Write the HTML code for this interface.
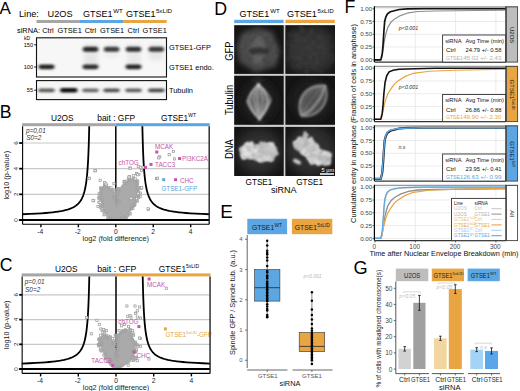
<!DOCTYPE html>
<html><head><meta charset="utf-8"><style>
html,body{margin:0;padding:0;background:#fff;width:520px;height:391px;overflow:hidden}
svg{position:absolute;left:0;top:0;font-family:"Liberation Sans", sans-serif}
</style></head><body>
<svg width="520" height="391" viewBox="0 0 520 391">
<rect width="520" height="391" fill="#fff"/>
<text x="-0.5" y="14" font-size="17" fill="#000" text-anchor="start" >A</text>
<text x="19" y="17.2" font-size="9.2" fill="#000" text-anchor="start" >Line:</text>
<text x="47.6" y="17.2" font-size="9.2" fill="#000" text-anchor="start" >U2OS</text>
<text x="83.1" y="17.0" font-size="9.0" fill="#000" text-anchor="start" >GTSE1<tspan font-size="6.2" dy="-4.0" dx="0.6">WT</tspan></text>
<text x="126" y="17.0" font-size="9.0" fill="#000" text-anchor="start" >GTSE1<tspan font-size="6.2" dy="-4.0" dx="0.4">5xLID</tspan></text>
<rect x="36.4" y="20" width="43.6" height="3" fill="#a6a6a6"/>
<rect x="80" y="20" width="43.1" height="3" fill="#5ba6e3"/>
<rect x="123.1" y="20" width="43.6" height="3" fill="#e8a541"/>
<text x="17" y="32.6" font-size="7.4" fill="#000" text-anchor="start" >siRNA:</text>
<text x="48" y="32.6" font-size="7.4" fill="#000" text-anchor="middle" >Ctrl</text>
<text x="69.7" y="32.6" font-size="7.4" fill="#000" text-anchor="middle" >GTSE1</text>
<text x="90.4" y="32.6" font-size="7.4" fill="#000" text-anchor="middle" >Ctrl</text>
<text x="112" y="32.6" font-size="7.4" fill="#000" text-anchor="middle" >GTSE1</text>
<text x="133.3" y="32.6" font-size="7.4" fill="#000" text-anchor="middle" >Ctrl</text>
<text x="154.7" y="32.6" font-size="7.4" fill="#000" text-anchor="middle" >GTSE1</text>
<text x="23.9" y="39.9" font-size="5.0" fill="#000" text-anchor="start" >kD</text>
<text x="33.0" y="46.8" font-size="5.6" fill="#000" text-anchor="end" >150</text>
<line x1="34.2" y1="44.8" x2="36.5" y2="44.8" stroke="#000" stroke-width="0.9"/>
<text x="33.0" y="69.0" font-size="5.6" fill="#000" text-anchor="end" >100</text>
<line x1="34.2" y1="67.0" x2="36.5" y2="67.0" stroke="#000" stroke-width="0.9"/>
<text x="33.0" y="92.2" font-size="5.6" fill="#000" text-anchor="end" >55</text>
<line x1="34.2" y1="90.2" x2="36.5" y2="90.2" stroke="#000" stroke-width="0.9"/>
<defs><filter id="bl" x="-50%" y="-100%" width="200%" height="300%"><feGaussianBlur stdDeviation="1.5 1.3"/></filter><filter id="bl2" x="-50%" y="-50%" width="200%" height="200%"><feGaussianBlur stdDeviation="2.0"/></filter></defs>
<rect x="36.5" y="37.8" width="130" height="39.2" fill="#f7f7f7" stroke="#111" stroke-width="1.1"/>
<rect x="36.5" y="80.6" width="130" height="19" fill="#f6f6f6" stroke="#111" stroke-width="1.1"/>
<g filter="url(#bl2)" opacity="0.55"><rect x="84" y="44" width="14" height="24" fill="#d8d8d8"/><rect x="127" y="44" width="14" height="24" fill="#dcdcdc"/><rect x="149" y="44" width="14" height="16" fill="#d8d8d8"/><rect x="105" y="44" width="14" height="14" fill="#e4e4e4"/></g>
<g filter="url(#bl)">
<rect x="82.75" y="46.80" width="15.5" height="5.0" rx="2.50" fill="#000" opacity="0.82"/>
<rect x="103.85" y="46.80" width="15.5" height="5.0" rx="2.50" fill="#000" opacity="0.74"/>
<rect x="125.75" y="46.80" width="15.5" height="5.0" rx="2.50" fill="#000" opacity="0.78"/>
<rect x="148.55" y="46.80" width="15.5" height="5.0" rx="2.50" fill="#000" opacity="0.74"/>
<rect x="38.50" y="64.40" width="16" height="4.8" rx="2.40" fill="#000" opacity="0.85"/>
<rect x="82.50" y="64.40" width="16" height="4.8" rx="2.40" fill="#000" opacity="0.8"/>
<rect x="125.50" y="64.40" width="16" height="4.8" rx="2.40" fill="#000" opacity="0.83"/>
<rect x="38.25" y="88.40" width="16.5" height="3.8" rx="1.90" fill="#000" opacity="0.64"/>
<rect x="60.05" y="88.00" width="17.5" height="4.6" rx="2.30" fill="#000" opacity="0.95"/>
<rect x="82.25" y="88.40" width="16.5" height="3.8" rx="1.90" fill="#000" opacity="0.58"/>
<rect x="103.35" y="88.40" width="16.5" height="3.8" rx="1.90" fill="#000" opacity="0.68"/>
<rect x="125.25" y="88.40" width="16.5" height="3.8" rx="1.90" fill="#000" opacity="0.62"/>
<rect x="148.05" y="88.40" width="16.5" height="3.8" rx="1.90" fill="#000" opacity="0.7"/>
</g>
<text x="169" y="49.6" font-size="7.4" fill="#000" text-anchor="start" >GTSE1-GFP</text>
<text x="169" y="70" font-size="7.4" fill="#000" text-anchor="start" >GTSE1 endo.</text>
<text x="169" y="93.3" font-size="7.4" fill="#000" text-anchor="start" >Tubulin</text>
<text x="-0.3" y="118.4" font-size="17.6" fill="#000" text-anchor="start" >B</text>
<text x="62.2" y="120.6" font-size="8.3" fill="#000" text-anchor="middle" >U2OS</text>
<text x="97.2" y="120.6" font-size="8.3" fill="#000" text-anchor="start" textLength="38" lengthAdjust="spacingAndGlyphs">bait : GFP</text>
<text x="161" y="120.6" font-size="8.3" fill="#000" text-anchor="start" >GTSE1<tspan font-size="5" dy="-3.8">WT</tspan></text>
<rect x="22.1" y="123.2" width="93.69999999999999" height="3" fill="#a6a6a6"/>
<rect x="115.8" y="123.2" width="93.89999999999999" height="3" fill="#5ba6e3"/>
<line x1="22.6" y1="194.34" x2="209.2" y2="194.34" stroke="#c8c8c8" stroke-width="1.2"/>
<line x1="22.6" y1="168.68" x2="209.2" y2="168.68" stroke="#c8c8c8" stroke-width="1.2"/>
<line x1="22.6" y1="143.01999999999998" x2="209.2" y2="143.01999999999998" stroke="#c8c8c8" stroke-width="1.2"/>
<path d="M22.20,214.25 L29.78,213.94 L36.02,213.63 L41.24,213.32 L45.68,212.99 L49.50,212.65 L52.81,212.30 L55.71,211.94 L58.27,211.57 L60.55,211.19 L62.59,210.80 L64.42,210.39 L66.07,209.97 L67.58,209.55 L68.95,209.10 L70.20,208.65 L71.35,208.18 L72.42,207.70 L73.39,207.20 L74.30,206.69 L75.14,206.16 L75.93,205.62 L76.66,205.06 L77.34,204.48 L77.97,203.89 L78.57,203.27 L79.13,202.64 L79.66,201.99 L80.16,201.33 L80.63,200.64 L81.07,199.93 L81.49,199.20 L81.88,198.45 L82.26,197.67 L82.61,196.87 L82.95,196.05 L83.27,195.20 L83.58,194.33 L83.87,193.43 L84.14,192.51 L84.41,191.56 L84.66,190.57 L84.90,189.56 L85.12,188.52 L85.34,187.45 L85.55,186.34 L85.75,185.21 L85.94,184.03 L86.13,182.83 L86.30,181.58 L86.47,180.30 L86.63,178.98 L86.79,177.62 L86.93,176.22 L87.08,174.78 L87.21,173.30 L87.35,171.77 L87.47,170.19 L87.59,168.57 L87.71,166.90 L87.82,165.18 L87.93,163.41 L88.04,161.58 L88.14,159.70 L88.23,157.76 L88.33,155.77 L88.42,153.71 L88.50,151.59 L88.59,149.41 L88.67,147.17 L88.74,144.85 L88.82,142.47 L88.89,140.02 L88.96,137.49 L89.03,134.88 L89.09,132.20 L89.16,129.44 L89.22,126.60 L89.23,126.20" fill="none" stroke="#000" stroke-width="1.8"/>
<path d="M209.40,214.25 L201.82,213.94 L195.58,213.63 L190.36,213.32 L185.92,212.99 L182.10,212.65 L178.79,212.30 L175.89,211.94 L173.33,211.57 L171.05,211.19 L169.01,210.80 L167.18,210.39 L165.53,209.97 L164.02,209.55 L162.65,209.10 L161.40,208.65 L160.25,208.18 L159.18,207.70 L158.21,207.20 L157.30,206.69 L156.46,206.16 L155.67,205.62 L154.94,205.06 L154.26,204.48 L153.63,203.89 L153.03,203.27 L152.47,202.64 L151.94,201.99 L151.44,201.33 L150.97,200.64 L150.53,199.93 L150.11,199.20 L149.72,198.45 L149.34,197.67 L148.99,196.87 L148.65,196.05 L148.33,195.20 L148.02,194.33 L147.73,193.43 L147.46,192.51 L147.19,191.56 L146.94,190.57 L146.70,189.56 L146.48,188.52 L146.26,187.45 L146.05,186.34 L145.85,185.21 L145.66,184.03 L145.47,182.83 L145.30,181.58 L145.13,180.30 L144.97,178.98 L144.81,177.62 L144.67,176.22 L144.52,174.78 L144.39,173.30 L144.25,171.77 L144.13,170.19 L144.01,168.57 L143.89,166.90 L143.78,165.18 L143.67,163.41 L143.56,161.58 L143.46,159.70 L143.37,157.76 L143.27,155.77 L143.18,153.71 L143.10,151.59 L143.01,149.41 L142.93,147.17 L142.86,144.85 L142.78,142.47 L142.71,140.02 L142.64,137.49 L142.57,134.88 L142.51,132.20 L142.44,129.44 L142.38,126.60 L142.37,126.20" fill="none" stroke="#000" stroke-width="1.8"/>
<line x1="115.8" y1="126.2" x2="115.8" y2="220.0" stroke="#000" stroke-width="1.5"/>
<polygon points="116,221 109,219 104.6,213.1 102.4,207.3 100.2,198.5 99.5,190.5 103.8,185.4 109,186.9 113.3,191.2 115.5,196 116,204.4 117.5,204.4 117,192.7 121.3,185.4 124.3,182.5 129.4,179.6 133.7,177.4 136.6,181 138.1,186.9 139.6,194.2 136.6,201.4 133.7,207.3 129.4,213.1 123.5,219" fill="#aaaaaa"/>
<rect x="97.7" y="196.0" width="2.2" height="2.2" fill="none" stroke="#a4a4a4" stroke-width="0.75"/>
<rect x="136.1" y="179.6" width="2.2" height="2.2" fill="none" stroke="#a4a4a4" stroke-width="0.75"/>
<rect x="108.7" y="217.0" width="2.2" height="2.2" fill="none" stroke="#a4a4a4" stroke-width="0.75"/>
<rect x="123.6" y="180.2" width="2.2" height="2.2" fill="none" stroke="#a4a4a4" stroke-width="0.75"/>
<rect x="105.6" y="184.3" width="2.2" height="2.2" fill="none" stroke="#a4a4a4" stroke-width="0.75"/>
<rect x="135.8" y="188.2" width="2.2" height="2.2" fill="none" stroke="#a4a4a4" stroke-width="0.75"/>
<rect x="111.3" y="188.7" width="2.2" height="2.2" fill="none" stroke="#a4a4a4" stroke-width="0.75"/>
<rect x="127.5" y="177.0" width="2.2" height="2.2" fill="none" stroke="#a4a4a4" stroke-width="0.75"/>
<rect x="111.6" y="190.8" width="2.2" height="2.2" fill="none" stroke="#a4a4a4" stroke-width="0.75"/>
<rect x="101.2" y="209.2" width="2.2" height="2.2" fill="none" stroke="#a4a4a4" stroke-width="0.75"/>
<rect x="100.4" y="190.2" width="2.2" height="2.2" fill="none" stroke="#a4a4a4" stroke-width="0.75"/>
<rect x="123.3" y="217.1" width="2.2" height="2.2" fill="none" stroke="#a4a4a4" stroke-width="0.75"/>
<rect x="111.4" y="217.4" width="2.2" height="2.2" fill="none" stroke="#a4a4a4" stroke-width="0.75"/>
<rect x="116.5" y="194.0" width="2.2" height="2.2" fill="none" stroke="#a4a4a4" stroke-width="0.75"/>
<rect x="97.8" y="197.3" width="2.2" height="2.2" fill="none" stroke="#a4a4a4" stroke-width="0.75"/>
<rect x="103.0" y="213.7" width="2.2" height="2.2" fill="none" stroke="#a4a4a4" stroke-width="0.75"/>
<rect x="139.4" y="195.4" width="2.2" height="2.2" fill="none" stroke="#a4a4a4" stroke-width="0.75"/>
<rect x="117.5" y="187.9" width="2.2" height="2.2" fill="none" stroke="#a4a4a4" stroke-width="0.75"/>
<rect x="118.4" y="190.1" width="2.2" height="2.2" fill="none" stroke="#a4a4a4" stroke-width="0.75"/>
<rect x="100.3" y="187.0" width="2.2" height="2.2" fill="none" stroke="#a4a4a4" stroke-width="0.75"/>
<rect x="130.6" y="206.7" width="2.2" height="2.2" fill="none" stroke="#a4a4a4" stroke-width="0.75"/>
<rect x="130.3" y="206.5" width="2.2" height="2.2" fill="none" stroke="#a4a4a4" stroke-width="0.75"/>
<rect x="128.9" y="212.9" width="2.2" height="2.2" fill="none" stroke="#a4a4a4" stroke-width="0.75"/>
<rect x="103.7" y="213.3" width="2.2" height="2.2" fill="none" stroke="#a4a4a4" stroke-width="0.75"/>
<rect x="137.7" y="196.5" width="2.2" height="2.2" fill="none" stroke="#a4a4a4" stroke-width="0.75"/>
<rect x="115.9" y="204.6" width="2.2" height="2.2" fill="none" stroke="#a4a4a4" stroke-width="0.75"/>
<rect x="116.9" y="192.0" width="2.2" height="2.2" fill="none" stroke="#a4a4a4" stroke-width="0.75"/>
<rect x="106.9" y="216.4" width="2.2" height="2.2" fill="none" stroke="#a4a4a4" stroke-width="0.75"/>
<rect x="132.3" y="204.2" width="2.2" height="2.2" fill="none" stroke="#a4a4a4" stroke-width="0.75"/>
<rect x="101.2" y="200.7" width="2.2" height="2.2" fill="none" stroke="#a4a4a4" stroke-width="0.75"/>
<rect x="123.5" y="180.9" width="2.2" height="2.2" fill="none" stroke="#a4a4a4" stroke-width="0.75"/>
<rect x="124.2" y="215.8" width="2.2" height="2.2" fill="none" stroke="#a4a4a4" stroke-width="0.75"/>
<rect x="113.0" y="194.4" width="2.2" height="2.2" fill="none" stroke="#a4a4a4" stroke-width="0.75"/>
<rect x="139.3" y="192.0" width="2.2" height="2.2" fill="none" stroke="#a4a4a4" stroke-width="0.75"/>
<rect x="101.8" y="203.3" width="2.2" height="2.2" fill="none" stroke="#a4a4a4" stroke-width="0.75"/>
<rect x="116.0" y="188.0" width="2.2" height="2.2" fill="none" stroke="#a4a4a4" stroke-width="0.75"/>
<rect x="108.5" y="217.9" width="2.2" height="2.2" fill="none" stroke="#a4a4a4" stroke-width="0.75"/>
<rect x="129.2" y="179.8" width="2.2" height="2.2" fill="none" stroke="#a4a4a4" stroke-width="0.75"/>
<rect x="116.9" y="191.1" width="2.2" height="2.2" fill="none" stroke="#a4a4a4" stroke-width="0.75"/>
<rect x="135.6" y="199.7" width="2.2" height="2.2" fill="none" stroke="#a4a4a4" stroke-width="0.75"/>
<rect x="115.3" y="201.1" width="2.2" height="2.2" fill="none" stroke="#a4a4a4" stroke-width="0.75"/>
<rect x="113.4" y="192.6" width="2.2" height="2.2" fill="none" stroke="#a4a4a4" stroke-width="0.75"/>
<rect x="136.6" y="180.9" width="2.2" height="2.2" fill="none" stroke="#a4a4a4" stroke-width="0.75"/>
<rect x="117.5" y="199.9" width="2.2" height="2.2" fill="none" stroke="#a4a4a4" stroke-width="0.75"/>
<rect x="118.3" y="189.7" width="2.2" height="2.2" fill="none" stroke="#a4a4a4" stroke-width="0.75"/>
<rect x="132.2" y="177.5" width="2.2" height="2.2" fill="none" stroke="#a4a4a4" stroke-width="0.75"/>
<rect x="131.3" y="205.2" width="2.2" height="2.2" fill="none" stroke="#a4a4a4" stroke-width="0.75"/>
<rect x="127.8" y="180.6" width="2.2" height="2.2" fill="none" stroke="#a4a4a4" stroke-width="0.75"/>
<rect x="109.3" y="217.1" width="2.2" height="2.2" fill="none" stroke="#a4a4a4" stroke-width="0.75"/>
<rect x="135.1" y="180.6" width="2.2" height="2.2" fill="none" stroke="#a4a4a4" stroke-width="0.75"/>
<rect x="115.4" y="189.0" width="2.2" height="2.2" fill="none" stroke="#a4a4a4" stroke-width="0.75"/>
<rect x="137.8" y="191.7" width="2.2" height="2.2" fill="none" stroke="#a4a4a4" stroke-width="0.75"/>
<rect x="118.7" y="216.7" width="2.2" height="2.2" fill="none" stroke="#a4a4a4" stroke-width="0.75"/>
<rect x="100.2" y="205.4" width="2.2" height="2.2" fill="none" stroke="#a4a4a4" stroke-width="0.75"/>
<rect x="135.1" y="196.7" width="2.2" height="2.2" fill="none" stroke="#a4a4a4" stroke-width="0.75"/>
<rect x="133.1" y="204.5" width="2.2" height="2.2" fill="none" stroke="#a4a4a4" stroke-width="0.75"/>
<rect x="135.6" y="196.7" width="2.2" height="2.2" fill="none" stroke="#a4a4a4" stroke-width="0.75"/>
<rect x="112.9" y="192.3" width="2.2" height="2.2" fill="none" stroke="#a4a4a4" stroke-width="0.75"/>
<rect x="135.2" y="181.4" width="2.2" height="2.2" fill="none" stroke="#a4a4a4" stroke-width="0.75"/>
<rect x="107.6" y="187.2" width="2.2" height="2.2" fill="none" stroke="#a4a4a4" stroke-width="0.75"/>
<rect x="101.6" y="205.5" width="2.2" height="2.2" fill="none" stroke="#a4a4a4" stroke-width="0.75"/>
<rect x="112.5" y="188.8" width="2.2" height="2.2" fill="none" stroke="#a4a4a4" stroke-width="0.75"/>
<rect x="117.0" y="187.5" width="2.2" height="2.2" fill="none" stroke="#a4a4a4" stroke-width="0.75"/>
<rect x="103.6" y="185.5" width="2.2" height="2.2" fill="none" stroke="#a4a4a4" stroke-width="0.75"/>
<rect x="136.0" y="197.2" width="2.2" height="2.2" fill="none" stroke="#a4a4a4" stroke-width="0.75"/>
<rect x="100.1" y="188.9" width="2.2" height="2.2" fill="none" stroke="#a4a4a4" stroke-width="0.75"/>
<rect x="101.2" y="199.6" width="2.2" height="2.2" fill="none" stroke="#a4a4a4" stroke-width="0.75"/>
<rect x="117.9" y="200.9" width="2.2" height="2.2" fill="none" stroke="#a4a4a4" stroke-width="0.75"/>
<rect x="115.3" y="201.2" width="2.2" height="2.2" fill="none" stroke="#a4a4a4" stroke-width="0.75"/>
<rect x="115.3" y="191.2" width="2.2" height="2.2" fill="none" stroke="#a4a4a4" stroke-width="0.75"/>
<rect x="128.5" y="178.7" width="2.2" height="2.2" fill="none" stroke="#a4a4a4" stroke-width="0.75"/>
<rect x="136.8" y="195.8" width="2.2" height="2.2" fill="none" stroke="#a4a4a4" stroke-width="0.75"/>
<rect x="115.5" y="194.9" width="2.2" height="2.2" fill="none" stroke="#a4a4a4" stroke-width="0.75"/>
<rect x="97.8" y="201.2" width="2.2" height="2.2" fill="none" stroke="#a4a4a4" stroke-width="0.75"/>
<rect x="133.9" y="203.1" width="2.2" height="2.2" fill="none" stroke="#a4a4a4" stroke-width="0.75"/>
<rect x="100.8" y="207.7" width="2.2" height="2.2" fill="none" stroke="#a4a4a4" stroke-width="0.75"/>
<rect x="136.1" y="183.6" width="2.2" height="2.2" fill="none" stroke="#a4a4a4" stroke-width="0.75"/>
<rect x="126.5" y="214.5" width="2.2" height="2.2" fill="none" stroke="#a4a4a4" stroke-width="0.75"/>
<rect x="100.2" y="190.9" width="2.2" height="2.2" fill="none" stroke="#a4a4a4" stroke-width="0.75"/>
<rect x="137.4" y="187.1" width="2.2" height="2.2" fill="none" stroke="#a4a4a4" stroke-width="0.75"/>
<rect x="128.0" y="177.7" width="2.2" height="2.2" fill="none" stroke="#a4a4a4" stroke-width="0.75"/>
<rect x="126.7" y="213.4" width="2.2" height="2.2" fill="none" stroke="#a4a4a4" stroke-width="0.75"/>
<rect x="135.9" y="185.4" width="2.2" height="2.2" fill="none" stroke="#a4a4a4" stroke-width="0.75"/>
<rect x="125.2" y="216.2" width="2.2" height="2.2" fill="none" stroke="#a4a4a4" stroke-width="0.75"/>
<rect x="135.5" y="184.2" width="2.2" height="2.2" fill="none" stroke="#a4a4a4" stroke-width="0.75"/>
<rect x="109.9" y="186.8" width="2.2" height="2.2" fill="none" stroke="#a4a4a4" stroke-width="0.75"/>
<rect x="123.8" y="216.1" width="2.2" height="2.2" fill="none" stroke="#a4a4a4" stroke-width="0.75"/>
<rect x="99.2" y="200.7" width="2.2" height="2.2" fill="none" stroke="#a4a4a4" stroke-width="0.75"/>
<rect x="115.2" y="198.9" width="2.2" height="2.2" fill="none" stroke="#a4a4a4" stroke-width="0.75"/>
<rect x="136.3" y="188.4" width="2.2" height="2.2" fill="none" stroke="#a4a4a4" stroke-width="0.75"/>
<rect x="104.5" y="183.2" width="2.2" height="2.2" fill="none" stroke="#a4a4a4" stroke-width="0.75"/>
<rect x="99.1" y="196.9" width="2.2" height="2.2" fill="none" stroke="#a4a4a4" stroke-width="0.75"/>
<rect x="124.9" y="217.5" width="2.2" height="2.2" fill="none" stroke="#a4a4a4" stroke-width="0.75"/>
<rect x="101.0" y="209.6" width="2.2" height="2.2" fill="none" stroke="#a4a4a4" stroke-width="0.75"/>
<rect x="128.9" y="212.3" width="2.2" height="2.2" fill="none" stroke="#a4a4a4" stroke-width="0.75"/>
<rect x="131.8" y="207.5" width="2.2" height="2.2" fill="none" stroke="#a4a4a4" stroke-width="0.75"/>
<rect x="112.9" y="195.7" width="2.2" height="2.2" fill="none" stroke="#a4a4a4" stroke-width="0.75"/>
<rect x="100.1" y="193.1" width="2.2" height="2.2" fill="none" stroke="#a4a4a4" stroke-width="0.75"/>
<rect x="101.6" y="202.1" width="2.2" height="2.2" fill="none" stroke="#a4a4a4" stroke-width="0.75"/>
<rect x="129.9" y="207.9" width="2.2" height="2.2" fill="none" stroke="#a4a4a4" stroke-width="0.75"/>
<rect x="117.5" y="190.8" width="2.2" height="2.2" fill="none" stroke="#a4a4a4" stroke-width="0.75"/>
<rect x="98.6" y="193.9" width="2.2" height="2.2" fill="none" stroke="#a4a4a4" stroke-width="0.75"/>
<rect x="99.6" y="186.9" width="2.2" height="2.2" fill="none" stroke="#a4a4a4" stroke-width="0.75"/>
<rect x="100.6" y="196.6" width="2.2" height="2.2" fill="none" stroke="#a4a4a4" stroke-width="0.75"/>
<rect x="113.4" y="217.8" width="2.2" height="2.2" fill="none" stroke="#a4a4a4" stroke-width="0.75"/>
<rect x="100.4" y="190.9" width="2.2" height="2.2" fill="none" stroke="#a4a4a4" stroke-width="0.75"/>
<rect x="132.2" y="174.5" width="2.2" height="2.2" fill="none" stroke="#a4a4a4" stroke-width="0.75"/>
<rect x="116.6" y="192.1" width="2.2" height="2.2" fill="none" stroke="#a4a4a4" stroke-width="0.75"/>
<rect x="115.9" y="196.3" width="2.2" height="2.2" fill="none" stroke="#a4a4a4" stroke-width="0.75"/>
<rect x="100.2" y="187.3" width="2.2" height="2.2" fill="none" stroke="#a4a4a4" stroke-width="0.75"/>
<rect x="115.6" y="202.0" width="2.2" height="2.2" fill="none" stroke="#a4a4a4" stroke-width="0.75"/>
<rect x="102.9" y="210.7" width="2.2" height="2.2" fill="none" stroke="#a4a4a4" stroke-width="0.75"/>
<rect x="117.1" y="187.7" width="2.2" height="2.2" fill="none" stroke="#a4a4a4" stroke-width="0.75"/>
<rect x="125.8" y="180.0" width="2.2" height="2.2" fill="none" stroke="#a4a4a4" stroke-width="0.75"/>
<rect x="99.7" y="192.1" width="2.2" height="2.2" fill="none" stroke="#a4a4a4" stroke-width="0.75"/>
<rect x="122.8" y="180.7" width="2.2" height="2.2" fill="none" stroke="#a4a4a4" stroke-width="0.75"/>
<rect x="106.8" y="217.2" width="2.2" height="2.2" fill="none" stroke="#a4a4a4" stroke-width="0.75"/>
<rect x="112.7" y="196.6" width="2.2" height="2.2" fill="none" stroke="#a4a4a4" stroke-width="0.75"/>
<rect x="114.9" y="197.8" width="2.2" height="2.2" fill="none" stroke="#a4a4a4" stroke-width="0.75"/>
<rect x="98.9" y="197.6" width="2.2" height="2.2" fill="none" stroke="#a4a4a4" stroke-width="0.75"/>
<rect x="98.1" y="192.3" width="2.2" height="2.2" fill="none" stroke="#a4a4a4" stroke-width="0.75"/>
<rect x="112.7" y="199.0" width="2.2" height="2.2" fill="none" stroke="#a4a4a4" stroke-width="0.75"/>
<rect x="137.2" y="188.2" width="2.2" height="2.2" fill="none" stroke="#a4a4a4" stroke-width="0.75"/>
<rect x="118.2" y="200.7" width="2.2" height="2.2" fill="none" stroke="#a4a4a4" stroke-width="0.75"/>
<rect x="139.1" y="186.6" width="2.2" height="2.2" fill="none" stroke="#a4a4a4" stroke-width="0.75"/>
<rect x="133.0" y="203.5" width="2.2" height="2.2" fill="none" stroke="#a4a4a4" stroke-width="0.75"/>
<rect x="107.2" y="186.6" width="2.2" height="2.2" fill="none" stroke="#a4a4a4" stroke-width="0.75"/>
<rect x="136.0" y="182.5" width="2.2" height="2.2" fill="none" stroke="#a4a4a4" stroke-width="0.75"/>
<rect x="99.2" y="206.2" width="2.2" height="2.2" fill="none" stroke="#a4a4a4" stroke-width="0.75"/>
<rect x="99.5" y="204.3" width="2.2" height="2.2" fill="none" stroke="#a4a4a4" stroke-width="0.75"/>
<rect x="133.6" y="179.9" width="2.2" height="2.2" fill="none" stroke="#a4a4a4" stroke-width="0.75"/>
<rect x="136.2" y="196.0" width="2.2" height="2.2" fill="none" stroke="#a4a4a4" stroke-width="0.75"/>
<rect x="103.3" y="184.4" width="2.2" height="2.2" fill="none" stroke="#a4a4a4" stroke-width="0.75"/>
<rect x="115.2" y="203.3" width="2.2" height="2.2" fill="none" stroke="#a4a4a4" stroke-width="0.75"/>
<rect x="125.1" y="182.4" width="2.2" height="2.2" fill="none" stroke="#a4a4a4" stroke-width="0.75"/>
<rect x="121.7" y="216.8" width="2.2" height="2.2" fill="none" stroke="#a4a4a4" stroke-width="0.75"/>
<rect x="102.8" y="186.8" width="2.2" height="2.2" fill="none" stroke="#a4a4a4" stroke-width="0.75"/>
<rect x="118.2" y="199.3" width="2.2" height="2.2" fill="none" stroke="#a4a4a4" stroke-width="0.75"/>
<rect x="136.1" y="200.2" width="2.2" height="2.2" fill="none" stroke="#a4a4a4" stroke-width="0.75"/>
<rect x="135.6" y="186.6" width="2.2" height="2.2" fill="none" stroke="#a4a4a4" stroke-width="0.75"/>
<rect x="94.0" y="169.7" width="2.2" height="2.2" fill="#fff" stroke="#9c9c9c" stroke-width="0.75"/>
<rect x="99.1" y="179.2" width="2.2" height="2.2" fill="#fff" stroke="#9c9c9c" stroke-width="0.75"/>
<rect x="92.5" y="199.6" width="2.2" height="2.2" fill="#fff" stroke="#9c9c9c" stroke-width="0.75"/>
<rect x="99.1" y="201.1" width="2.2" height="2.2" fill="#fff" stroke="#9c9c9c" stroke-width="0.75"/>
<rect x="96.9" y="205.4" width="2.2" height="2.2" fill="#fff" stroke="#9c9c9c" stroke-width="0.75"/>
<rect x="103.5" y="181.4" width="2.2" height="2.2" fill="#fff" stroke="#9c9c9c" stroke-width="0.75"/>
<rect x="104.9" y="182.9" width="2.2" height="2.2" fill="#fff" stroke="#9c9c9c" stroke-width="0.75"/>
<rect x="112.9" y="182.6" width="2.2" height="2.2" fill="#fff" stroke="#9c9c9c" stroke-width="0.75"/>
<rect x="128.9" y="166.9" width="2.2" height="2.2" fill="#fff" stroke="#9c9c9c" stroke-width="0.75"/>
<rect x="128.3" y="175.6" width="2.2" height="2.2" fill="#fff" stroke="#9c9c9c" stroke-width="0.75"/>
<rect x="135.5" y="172.6" width="2.2" height="2.2" fill="#fff" stroke="#9c9c9c" stroke-width="0.75"/>
<rect x="137.7" y="173.4" width="2.2" height="2.2" fill="#fff" stroke="#9c9c9c" stroke-width="0.75"/>
<rect x="139.2" y="166.1" width="2.2" height="2.2" fill="#fff" stroke="#9c9c9c" stroke-width="0.75"/>
<rect x="134.1" y="177.7" width="2.2" height="2.2" fill="#fff" stroke="#9c9c9c" stroke-width="0.75"/>
<rect x="137.0" y="192.3" width="2.2" height="2.2" fill="#fff" stroke="#9c9c9c" stroke-width="0.75"/>
<rect x="139.9" y="187.2" width="2.2" height="2.2" fill="#fff" stroke="#9c9c9c" stroke-width="0.75"/>
<rect x="135.5" y="197.4" width="2.2" height="2.2" fill="#fff" stroke="#9c9c9c" stroke-width="0.75"/>
<rect x="147.4" y="208.2" width="2.2" height="2.2" fill="#fff" stroke="#9c9c9c" stroke-width="0.75"/>
<rect x="129.0" y="167.3" width="2.2" height="2.2" fill="#fff" stroke="#9c9c9c" stroke-width="0.75"/>
<rect x="137.2" y="165.3" width="2.2" height="2.2" fill="#fff" stroke="#9c9c9c" stroke-width="0.75"/>
<rect x="140.3" y="169.4" width="2.2" height="2.2" fill="#fff" stroke="#9c9c9c" stroke-width="0.75"/>
<rect x="155.6" y="177.5" width="2.2" height="2.2" fill="#fff" stroke="#9c9c9c" stroke-width="0.75"/>
<rect x="172.4" y="150.4" width="2.2" height="2.2" fill="#fff" stroke="#9c9c9c" stroke-width="0.75"/>
<rect x="168.1" y="153.6" width="2.2" height="2.2" fill="#fff" stroke="#9c9c9c" stroke-width="0.75"/>
<rect x="158.6" y="155.7" width="2.2" height="2.2" fill="#fff" stroke="#9c9c9c" stroke-width="0.75"/>
<rect x="157.6" y="156.8" width="2.2" height="2.2" fill="#fff" stroke="#9c9c9c" stroke-width="0.75"/>
<rect x="173.4" y="157.8" width="2.2" height="2.2" fill="#fff" stroke="#9c9c9c" stroke-width="0.75"/>
<rect x="142.7" y="166.3" width="2.2" height="2.2" fill="#fff" stroke="#9c9c9c" stroke-width="0.75"/>
<rect x="136.4" y="173.7" width="2.2" height="2.2" fill="#fff" stroke="#9c9c9c" stroke-width="0.75"/>
<rect x="127.9" y="175.9" width="2.2" height="2.2" fill="#fff" stroke="#9c9c9c" stroke-width="0.75"/>
<rect x="156.5" y="177.1" width="2.2" height="2.2" fill="#fff" stroke="#9c9c9c" stroke-width="0.75"/>
<rect x="146.9" y="207.7" width="2.2" height="2.2" fill="#fff" stroke="#9c9c9c" stroke-width="0.75"/>
<rect x="140.6" y="186.6" width="2.2" height="2.2" fill="#fff" stroke="#9c9c9c" stroke-width="0.75"/>
<rect x="129.9" y="197.2" width="2.2" height="2.2" fill="#fff" stroke="#9c9c9c" stroke-width="0.75"/>
<rect x="87.7" y="177.1" width="2.2" height="2.2" fill="#fff" stroke="#9c9c9c" stroke-width="0.75"/>
<rect x="91.9" y="199.3" width="2.2" height="2.2" fill="#fff" stroke="#9c9c9c" stroke-width="0.75"/>
<rect x="88.1" y="177.5" width="2.2" height="2.2" fill="#fff" stroke="#9c9c9c" stroke-width="0.75"/>
<rect x="94.1" y="169.5" width="2.2" height="2.2" fill="#fff" stroke="#9c9c9c" stroke-width="0.75"/>
<rect x="155.3" y="150.5" width="3.0" height="3.0" fill="#c455a8"/>
<text x="155" y="148.6" font-size="6.3" fill="#c455a8" text-anchor="start" >MCAK</text>
<rect x="178.1" y="157.0" width="3.0" height="3.0" fill="#c455a8"/>
<text x="182" y="161.2" font-size="6.3" fill="#c455a8" text-anchor="start" >PI3KC2A</text>
<rect x="149.5" y="162.9" width="3.0" height="3.0" fill="#c455a8"/>
<text x="155" y="167" font-size="6.3" fill="#c455a8" text-anchor="start" >TACC3</text>
<rect x="144.0" y="165.9" width="3.0" height="3.0" fill="#c455a8"/>
<text x="118.5" y="164.8" font-size="6.3" fill="#c455a8" text-anchor="start" >chTOG</text>
<rect x="174.1" y="178.2" width="3.0" height="3.0" fill="#c455a8"/>
<text x="180" y="182.5" font-size="6.3" fill="#c455a8" text-anchor="start" >CHC</text>
<rect x="162.2" y="178.2" width="3.0" height="3.0" fill="#5ba6e3"/>
<text x="161.4" y="191.2" font-size="6.3" fill="#5ba6e3" text-anchor="start" >GTSE1-GFP</text>
<line x1="19.2" y1="220.0" x2="209.2" y2="220.0" stroke="#000" stroke-width="2.0"/>
<line x1="22.6" y1="126.2" x2="22.6" y2="224.3" stroke="#000" stroke-width="1.1"/>
<line x1="209.2" y1="126.2" x2="209.2" y2="224.3" stroke="#222" stroke-width="1.4"/>
<line x1="22.6" y1="224.3" x2="209.2" y2="224.3" stroke="#000" stroke-width="1.1"/>
<line x1="40.92" y1="224.3" x2="40.92" y2="227.3" stroke="#000" stroke-width="1.4"/>
<text x="40.32" y="234.20000000000002" font-size="6.7" fill="#222" text-anchor="middle" >-4</text>
<line x1="78.36" y1="224.3" x2="78.36" y2="227.3" stroke="#000" stroke-width="1.4"/>
<text x="77.76" y="234.20000000000002" font-size="6.7" fill="#222" text-anchor="middle" >-2</text>
<line x1="115.8" y1="224.3" x2="115.8" y2="227.3" stroke="#000" stroke-width="1.4"/>
<text x="115.8" y="234.20000000000002" font-size="6.7" fill="#222" text-anchor="middle" >0</text>
<line x1="153.24" y1="224.3" x2="153.24" y2="227.3" stroke="#000" stroke-width="1.4"/>
<text x="153.24" y="234.20000000000002" font-size="6.7" fill="#222" text-anchor="middle" >2</text>
<line x1="190.68" y1="224.3" x2="190.68" y2="227.3" stroke="#000" stroke-width="1.4"/>
<text x="190.68" y="234.20000000000002" font-size="6.7" fill="#222" text-anchor="middle" >4</text>
<line x1="19.2" y1="220.0" x2="22.6" y2="220.0" stroke="#000" stroke-width="1.8"/>
<text x="15.4" y="220.0" font-size="6.2" fill="#222" text-anchor="middle" transform="rotate(-90 15.4 220.0)" dy="2.2">0</text>
<line x1="19.2" y1="194.34" x2="22.6" y2="194.34" stroke="#000" stroke-width="1.8"/>
<text x="15.4" y="194.34" font-size="6.2" fill="#222" text-anchor="middle" transform="rotate(-90 15.4 194.34)" dy="2.2">2</text>
<line x1="19.2" y1="168.68" x2="22.6" y2="168.68" stroke="#000" stroke-width="1.8"/>
<text x="15.4" y="168.68" font-size="6.2" fill="#222" text-anchor="middle" transform="rotate(-90 15.4 168.68)" dy="2.2">4</text>
<line x1="19.2" y1="143.01999999999998" x2="22.6" y2="143.01999999999998" stroke="#000" stroke-width="1.8"/>
<text x="15.4" y="143.01999999999998" font-size="6.2" fill="#222" text-anchor="middle" transform="rotate(-90 15.4 143.01999999999998)" dy="2.2">6</text>
<text x="115.8" y="240.8" font-size="7.3" fill="#222" text-anchor="middle" >log2 (fold difference)</text>
<text x="8.8" y="175.25" font-size="7.3" fill="#222" text-anchor="middle" transform="rotate(-90 8.8 175.25)">log10 (p-value)</text>
<text x="26" y="133.0" font-size="6.4" fill="#333" text-anchor="start" font-style="italic">p=0,01</text>
<text x="26.3" y="140.10000000000002" font-size="6.4" fill="#333" text-anchor="start" font-style="italic">S0=2</text>
<text x="-0.3" y="270.9" font-size="17.6" fill="#000" text-anchor="start" >C</text>
<text x="66.2" y="271.6" font-size="8.3" fill="#000" text-anchor="middle" >U2OS</text>
<text x="97.2" y="271.6" font-size="8.3" fill="#000" text-anchor="start" textLength="39.2" lengthAdjust="spacingAndGlyphs">bait : GFP</text>
<text x="158.8" y="271.6" font-size="8.3" fill="#000" text-anchor="start" >GTSE1<tspan font-size="5" dy="-3.8">5xLID</tspan></text>
<rect x="21.65" y="273.4" width="94.35" height="3" fill="#a6a6a6"/>
<rect x="116.0" y="273.4" width="94.55000000000001" height="3" fill="#e8a541"/>
<line x1="22.15" y1="344.34000000000003" x2="210.05" y2="344.34000000000003" stroke="#c8c8c8" stroke-width="1.2"/>
<line x1="22.15" y1="319.58000000000004" x2="210.05" y2="319.58000000000004" stroke="#c8c8c8" stroke-width="1.2"/>
<line x1="22.15" y1="294.82000000000005" x2="210.05" y2="294.82000000000005" stroke="#c8c8c8" stroke-width="1.2"/>
<path d="M21.75,363.55 L29.38,363.26 L35.67,362.96 L40.93,362.65 L45.40,362.33 L49.24,362.01 L52.57,361.67 L55.49,361.32 L58.07,360.97 L60.36,360.60 L62.42,360.22 L64.26,359.83 L65.93,359.43 L67.44,359.01 L68.82,358.59 L70.09,358.15 L71.25,357.69 L72.31,357.23 L73.30,356.75 L74.21,356.25 L75.06,355.75 L75.85,355.22 L76.58,354.68 L77.27,354.12 L77.91,353.55 L78.51,352.96 L79.08,352.35 L79.61,351.73 L80.11,351.08 L80.58,350.42 L81.03,349.73 L81.45,349.03 L81.85,348.30 L82.23,347.55 L82.58,346.78 L82.92,345.99 L83.25,345.17 L83.55,344.33 L83.84,343.47 L84.12,342.57 L84.39,341.65 L84.64,340.71 L84.88,339.73 L85.11,338.73 L85.33,337.69 L85.54,336.62 L85.74,335.53 L85.94,334.39 L86.12,333.23 L86.30,332.03 L86.47,330.79 L86.63,329.52 L86.78,328.21 L86.93,326.86 L87.08,325.47 L87.22,324.04 L87.35,322.56 L87.48,321.04 L87.60,319.47 L87.72,317.86 L87.83,316.20 L87.94,314.49 L88.04,312.73 L88.14,310.91 L88.24,309.04 L88.34,307.12 L88.43,305.13 L88.51,303.09 L88.60,300.99 L88.68,298.82 L88.76,296.59 L88.83,294.29 L88.90,291.92 L88.98,289.48 L89.04,286.97 L89.11,284.38 L89.17,281.72 L89.23,278.97 L89.29,276.40" fill="none" stroke="#000" stroke-width="1.8"/>
<path d="M210.25,363.55 L202.62,363.26 L196.33,362.96 L191.07,362.65 L186.60,362.33 L182.76,362.01 L179.43,361.67 L176.51,361.32 L173.93,360.97 L171.64,360.60 L169.58,360.22 L167.74,359.83 L166.07,359.43 L164.56,359.01 L163.18,358.59 L161.91,358.15 L160.75,357.69 L159.69,357.23 L158.70,356.75 L157.79,356.25 L156.94,355.75 L156.15,355.22 L155.42,354.68 L154.73,354.12 L154.09,353.55 L153.49,352.96 L152.92,352.35 L152.39,351.73 L151.89,351.08 L151.42,350.42 L150.97,349.73 L150.55,349.03 L150.15,348.30 L149.77,347.55 L149.42,346.78 L149.08,345.99 L148.75,345.17 L148.45,344.33 L148.16,343.47 L147.88,342.57 L147.61,341.65 L147.36,340.71 L147.12,339.73 L146.89,338.73 L146.67,337.69 L146.46,336.62 L146.26,335.53 L146.06,334.39 L145.88,333.23 L145.70,332.03 L145.53,330.79 L145.37,329.52 L145.22,328.21 L145.07,326.86 L144.92,325.47 L144.78,324.04 L144.65,322.56 L144.52,321.04 L144.40,319.47 L144.28,317.86 L144.17,316.20 L144.06,314.49 L143.96,312.73 L143.86,310.91 L143.76,309.04 L143.66,307.12 L143.57,305.13 L143.49,303.09 L143.40,300.99 L143.32,298.82 L143.24,296.59 L143.17,294.29 L143.10,291.92 L143.02,289.48 L142.96,286.97 L142.89,284.38 L142.83,281.72 L142.77,278.97 L142.71,276.40" fill="none" stroke="#000" stroke-width="1.8"/>
<line x1="116.0" y1="276.4" x2="116.0" y2="369.1" stroke="#000" stroke-width="1.5"/>
<polygon points="116,369.4 113.5,365.5 108.8,360.7 104,354.4 100.8,346.5 100,340 102.4,333.8 108.8,337 114.3,341.7 115.5,350 116,357.5 117,357.5 116.7,335.4 121.5,330.6 126.2,329 131,332.2 132.5,337 135.7,341.7 135.7,349.6 134.1,357.5 129.4,362.3 123,367" fill="#aaaaaa"/>
<rect x="115.3" y="342.1" width="2.2" height="2.2" fill="none" stroke="#a4a4a4" stroke-width="0.75"/>
<rect x="98.5" y="342.3" width="2.2" height="2.2" fill="none" stroke="#a4a4a4" stroke-width="0.75"/>
<rect x="117.0" y="366.0" width="2.2" height="2.2" fill="none" stroke="#a4a4a4" stroke-width="0.75"/>
<rect x="100.9" y="338.5" width="2.2" height="2.2" fill="none" stroke="#a4a4a4" stroke-width="0.75"/>
<rect x="107.5" y="335.0" width="2.2" height="2.2" fill="none" stroke="#a4a4a4" stroke-width="0.75"/>
<rect x="108.1" y="361.0" width="2.2" height="2.2" fill="none" stroke="#a4a4a4" stroke-width="0.75"/>
<rect x="97.8" y="344.3" width="2.2" height="2.2" fill="none" stroke="#a4a4a4" stroke-width="0.75"/>
<rect x="120.6" y="331.2" width="2.2" height="2.2" fill="none" stroke="#a4a4a4" stroke-width="0.75"/>
<rect x="119.9" y="364.8" width="2.2" height="2.2" fill="none" stroke="#a4a4a4" stroke-width="0.75"/>
<rect x="100.2" y="349.3" width="2.2" height="2.2" fill="none" stroke="#a4a4a4" stroke-width="0.75"/>
<rect x="116.6" y="365.9" width="2.2" height="2.2" fill="none" stroke="#a4a4a4" stroke-width="0.75"/>
<rect x="113.6" y="343.2" width="2.2" height="2.2" fill="none" stroke="#a4a4a4" stroke-width="0.75"/>
<rect x="122.3" y="330.0" width="2.2" height="2.2" fill="none" stroke="#a4a4a4" stroke-width="0.75"/>
<rect x="98.6" y="341.8" width="2.2" height="2.2" fill="none" stroke="#a4a4a4" stroke-width="0.75"/>
<rect x="127.7" y="329.7" width="2.2" height="2.2" fill="none" stroke="#a4a4a4" stroke-width="0.75"/>
<rect x="110.7" y="363.4" width="2.2" height="2.2" fill="none" stroke="#a4a4a4" stroke-width="0.75"/>
<rect x="114.1" y="335.2" width="2.2" height="2.2" fill="none" stroke="#a4a4a4" stroke-width="0.75"/>
<rect x="114.5" y="340.0" width="2.2" height="2.2" fill="none" stroke="#a4a4a4" stroke-width="0.75"/>
<rect x="112.8" y="342.1" width="2.2" height="2.2" fill="none" stroke="#a4a4a4" stroke-width="0.75"/>
<rect x="130.4" y="337.1" width="2.2" height="2.2" fill="none" stroke="#a4a4a4" stroke-width="0.75"/>
<rect x="119.2" y="331.9" width="2.2" height="2.2" fill="none" stroke="#a4a4a4" stroke-width="0.75"/>
<rect x="100.3" y="350.0" width="2.2" height="2.2" fill="none" stroke="#a4a4a4" stroke-width="0.75"/>
<rect x="124.5" y="328.7" width="2.2" height="2.2" fill="none" stroke="#a4a4a4" stroke-width="0.75"/>
<rect x="114.8" y="356.4" width="2.2" height="2.2" fill="none" stroke="#a4a4a4" stroke-width="0.75"/>
<rect x="132.1" y="333.2" width="2.2" height="2.2" fill="none" stroke="#a4a4a4" stroke-width="0.75"/>
<rect x="117.9" y="333.4" width="2.2" height="2.2" fill="none" stroke="#a4a4a4" stroke-width="0.75"/>
<rect x="121.9" y="329.6" width="2.2" height="2.2" fill="none" stroke="#a4a4a4" stroke-width="0.75"/>
<rect x="115.0" y="350.2" width="2.2" height="2.2" fill="none" stroke="#a4a4a4" stroke-width="0.75"/>
<rect x="116.0" y="367.0" width="2.2" height="2.2" fill="none" stroke="#a4a4a4" stroke-width="0.75"/>
<rect x="118.2" y="366.8" width="2.2" height="2.2" fill="none" stroke="#a4a4a4" stroke-width="0.75"/>
<rect x="132.2" y="349.5" width="2.2" height="2.2" fill="none" stroke="#a4a4a4" stroke-width="0.75"/>
<rect x="117.7" y="349.2" width="2.2" height="2.2" fill="none" stroke="#a4a4a4" stroke-width="0.75"/>
<rect x="111.7" y="364.0" width="2.2" height="2.2" fill="none" stroke="#a4a4a4" stroke-width="0.75"/>
<rect x="99.6" y="334.1" width="2.2" height="2.2" fill="none" stroke="#a4a4a4" stroke-width="0.75"/>
<rect x="99.5" y="341.3" width="2.2" height="2.2" fill="none" stroke="#a4a4a4" stroke-width="0.75"/>
<rect x="115.6" y="349.1" width="2.2" height="2.2" fill="none" stroke="#a4a4a4" stroke-width="0.75"/>
<rect x="110.2" y="359.9" width="2.2" height="2.2" fill="none" stroke="#a4a4a4" stroke-width="0.75"/>
<rect x="101.1" y="341.0" width="2.2" height="2.2" fill="none" stroke="#a4a4a4" stroke-width="0.75"/>
<rect x="106.1" y="359.8" width="2.2" height="2.2" fill="none" stroke="#a4a4a4" stroke-width="0.75"/>
<rect x="104.5" y="335.5" width="2.2" height="2.2" fill="none" stroke="#a4a4a4" stroke-width="0.75"/>
<rect x="101.3" y="331.1" width="2.2" height="2.2" fill="none" stroke="#a4a4a4" stroke-width="0.75"/>
<rect x="115.5" y="348.6" width="2.2" height="2.2" fill="none" stroke="#a4a4a4" stroke-width="0.75"/>
<rect x="106.3" y="337.0" width="2.2" height="2.2" fill="none" stroke="#a4a4a4" stroke-width="0.75"/>
<rect x="117.5" y="334.5" width="2.2" height="2.2" fill="none" stroke="#a4a4a4" stroke-width="0.75"/>
<rect x="114.3" y="366.9" width="2.2" height="2.2" fill="none" stroke="#a4a4a4" stroke-width="0.75"/>
<rect x="128.7" y="328.4" width="2.2" height="2.2" fill="none" stroke="#a4a4a4" stroke-width="0.75"/>
<rect x="99.2" y="337.8" width="2.2" height="2.2" fill="none" stroke="#a4a4a4" stroke-width="0.75"/>
<rect x="108.8" y="360.6" width="2.2" height="2.2" fill="none" stroke="#a4a4a4" stroke-width="0.75"/>
<rect x="109.5" y="336.6" width="2.2" height="2.2" fill="none" stroke="#a4a4a4" stroke-width="0.75"/>
<rect x="110.7" y="362.2" width="2.2" height="2.2" fill="none" stroke="#a4a4a4" stroke-width="0.75"/>
<rect x="114.4" y="334.0" width="2.2" height="2.2" fill="none" stroke="#a4a4a4" stroke-width="0.75"/>
<rect x="112.9" y="340.0" width="2.2" height="2.2" fill="none" stroke="#a4a4a4" stroke-width="0.75"/>
<rect x="104.4" y="356.8" width="2.2" height="2.2" fill="none" stroke="#a4a4a4" stroke-width="0.75"/>
<rect x="114.6" y="352.2" width="2.2" height="2.2" fill="none" stroke="#a4a4a4" stroke-width="0.75"/>
<rect x="127.1" y="364.2" width="2.2" height="2.2" fill="none" stroke="#a4a4a4" stroke-width="0.75"/>
<rect x="109.8" y="362.1" width="2.2" height="2.2" fill="none" stroke="#a4a4a4" stroke-width="0.75"/>
<rect x="111.2" y="337.6" width="2.2" height="2.2" fill="none" stroke="#a4a4a4" stroke-width="0.75"/>
<rect x="104.1" y="352.5" width="2.2" height="2.2" fill="none" stroke="#a4a4a4" stroke-width="0.75"/>
<rect x="131.3" y="355.3" width="2.2" height="2.2" fill="none" stroke="#a4a4a4" stroke-width="0.75"/>
<rect x="133.0" y="358.7" width="2.2" height="2.2" fill="none" stroke="#a4a4a4" stroke-width="0.75"/>
<rect x="114.8" y="355.4" width="2.2" height="2.2" fill="none" stroke="#a4a4a4" stroke-width="0.75"/>
<rect x="123.5" y="330.1" width="2.2" height="2.2" fill="none" stroke="#a4a4a4" stroke-width="0.75"/>
<rect x="102.2" y="335.0" width="2.2" height="2.2" fill="none" stroke="#a4a4a4" stroke-width="0.75"/>
<rect x="118.5" y="365.1" width="2.2" height="2.2" fill="none" stroke="#a4a4a4" stroke-width="0.75"/>
<rect x="105.5" y="334.7" width="2.2" height="2.2" fill="none" stroke="#a4a4a4" stroke-width="0.75"/>
<rect x="134.1" y="357.0" width="2.2" height="2.2" fill="none" stroke="#a4a4a4" stroke-width="0.75"/>
<rect x="115.3" y="353.3" width="2.2" height="2.2" fill="none" stroke="#a4a4a4" stroke-width="0.75"/>
<rect x="135.2" y="350.0" width="2.2" height="2.2" fill="none" stroke="#a4a4a4" stroke-width="0.75"/>
<rect x="100.3" y="341.3" width="2.2" height="2.2" fill="none" stroke="#a4a4a4" stroke-width="0.75"/>
<rect x="132.2" y="359.2" width="2.2" height="2.2" fill="none" stroke="#a4a4a4" stroke-width="0.75"/>
<rect x="118.0" y="366.4" width="2.2" height="2.2" fill="none" stroke="#a4a4a4" stroke-width="0.75"/>
<rect x="98.3" y="343.5" width="2.2" height="2.2" fill="none" stroke="#a4a4a4" stroke-width="0.75"/>
<rect x="103.8" y="332.1" width="2.2" height="2.2" fill="none" stroke="#a4a4a4" stroke-width="0.75"/>
<rect x="135.0" y="343.1" width="2.2" height="2.2" fill="none" stroke="#a4a4a4" stroke-width="0.75"/>
<rect x="122.2" y="330.0" width="2.2" height="2.2" fill="none" stroke="#a4a4a4" stroke-width="0.75"/>
<rect x="135.2" y="348.5" width="2.2" height="2.2" fill="none" stroke="#a4a4a4" stroke-width="0.75"/>
<rect x="134.6" y="341.0" width="2.2" height="2.2" fill="none" stroke="#a4a4a4" stroke-width="0.75"/>
<rect x="99.2" y="348.8" width="2.2" height="2.2" fill="none" stroke="#a4a4a4" stroke-width="0.75"/>
<rect x="109.3" y="362.9" width="2.2" height="2.2" fill="none" stroke="#a4a4a4" stroke-width="0.75"/>
<rect x="109.2" y="335.7" width="2.2" height="2.2" fill="none" stroke="#a4a4a4" stroke-width="0.75"/>
<rect x="104.0" y="353.5" width="2.2" height="2.2" fill="none" stroke="#a4a4a4" stroke-width="0.75"/>
<rect x="134.1" y="342.0" width="2.2" height="2.2" fill="none" stroke="#a4a4a4" stroke-width="0.75"/>
<rect x="133.2" y="349.9" width="2.2" height="2.2" fill="none" stroke="#a4a4a4" stroke-width="0.75"/>
<rect x="132.5" y="341.0" width="2.2" height="2.2" fill="none" stroke="#a4a4a4" stroke-width="0.75"/>
<rect x="108.3" y="360.5" width="2.2" height="2.2" fill="none" stroke="#a4a4a4" stroke-width="0.75"/>
<rect x="134.8" y="343.6" width="2.2" height="2.2" fill="none" stroke="#a4a4a4" stroke-width="0.75"/>
<rect x="97.7" y="344.8" width="2.2" height="2.2" fill="none" stroke="#a4a4a4" stroke-width="0.75"/>
<rect x="112.4" y="366.9" width="2.2" height="2.2" fill="none" stroke="#a4a4a4" stroke-width="0.75"/>
<rect x="98.1" y="338.6" width="2.2" height="2.2" fill="none" stroke="#a4a4a4" stroke-width="0.75"/>
<rect x="117.8" y="354.7" width="2.2" height="2.2" fill="none" stroke="#a4a4a4" stroke-width="0.75"/>
<rect x="132.2" y="334.5" width="2.2" height="2.2" fill="none" stroke="#a4a4a4" stroke-width="0.75"/>
<rect x="115.7" y="354.3" width="2.2" height="2.2" fill="none" stroke="#a4a4a4" stroke-width="0.75"/>
<rect x="115.7" y="358.5" width="2.2" height="2.2" fill="none" stroke="#a4a4a4" stroke-width="0.75"/>
<rect x="115.3" y="351.5" width="2.2" height="2.2" fill="none" stroke="#a4a4a4" stroke-width="0.75"/>
<rect x="100.4" y="343.6" width="2.2" height="2.2" fill="none" stroke="#a4a4a4" stroke-width="0.75"/>
<rect x="99.8" y="346.6" width="2.2" height="2.2" fill="none" stroke="#a4a4a4" stroke-width="0.75"/>
<rect x="102.8" y="354.0" width="2.2" height="2.2" fill="none" stroke="#a4a4a4" stroke-width="0.75"/>
<rect x="134.2" y="351.0" width="2.2" height="2.2" fill="none" stroke="#a4a4a4" stroke-width="0.75"/>
<rect x="97.4" y="338.3" width="2.2" height="2.2" fill="none" stroke="#a4a4a4" stroke-width="0.75"/>
<rect x="124.8" y="329.4" width="2.2" height="2.2" fill="none" stroke="#a4a4a4" stroke-width="0.75"/>
<rect x="135.2" y="356.2" width="2.2" height="2.2" fill="none" stroke="#a4a4a4" stroke-width="0.75"/>
<rect x="117.2" y="345.1" width="2.2" height="2.2" fill="none" stroke="#a4a4a4" stroke-width="0.75"/>
<rect x="107.1" y="360.4" width="2.2" height="2.2" fill="none" stroke="#a4a4a4" stroke-width="0.75"/>
<rect x="99.7" y="343.8" width="2.2" height="2.2" fill="none" stroke="#a4a4a4" stroke-width="0.75"/>
<rect x="131.9" y="350.8" width="2.2" height="2.2" fill="none" stroke="#a4a4a4" stroke-width="0.75"/>
<rect x="131.3" y="338.4" width="2.2" height="2.2" fill="none" stroke="#a4a4a4" stroke-width="0.75"/>
<rect x="116.0" y="338.5" width="2.2" height="2.2" fill="none" stroke="#a4a4a4" stroke-width="0.75"/>
<rect x="127.1" y="361.3" width="2.2" height="2.2" fill="none" stroke="#a4a4a4" stroke-width="0.75"/>
<rect x="105.8" y="356.6" width="2.2" height="2.2" fill="none" stroke="#a4a4a4" stroke-width="0.75"/>
<rect x="107.6" y="336.6" width="2.2" height="2.2" fill="none" stroke="#a4a4a4" stroke-width="0.75"/>
<rect x="100.3" y="341.7" width="2.2" height="2.2" fill="none" stroke="#a4a4a4" stroke-width="0.75"/>
<rect x="115.3" y="341.9" width="2.2" height="2.2" fill="none" stroke="#a4a4a4" stroke-width="0.75"/>
<rect x="129.4" y="331.2" width="2.2" height="2.2" fill="none" stroke="#a4a4a4" stroke-width="0.75"/>
<rect x="132.3" y="355.5" width="2.2" height="2.2" fill="none" stroke="#a4a4a4" stroke-width="0.75"/>
<rect x="115.8" y="337.2" width="2.2" height="2.2" fill="none" stroke="#a4a4a4" stroke-width="0.75"/>
<rect x="111.5" y="364.6" width="2.2" height="2.2" fill="none" stroke="#a4a4a4" stroke-width="0.75"/>
<rect x="97.2" y="343.3" width="2.2" height="2.2" fill="none" stroke="#a4a4a4" stroke-width="0.75"/>
<rect x="130.7" y="356.8" width="2.2" height="2.2" fill="none" stroke="#a4a4a4" stroke-width="0.75"/>
<rect x="129.9" y="333.9" width="2.2" height="2.2" fill="none" stroke="#a4a4a4" stroke-width="0.75"/>
<rect x="130.7" y="359.1" width="2.2" height="2.2" fill="none" stroke="#a4a4a4" stroke-width="0.75"/>
<rect x="133.7" y="350.5" width="2.2" height="2.2" fill="none" stroke="#a4a4a4" stroke-width="0.75"/>
<rect x="103.9" y="351.0" width="2.2" height="2.2" fill="none" stroke="#a4a4a4" stroke-width="0.75"/>
<rect x="116.5" y="334.4" width="2.2" height="2.2" fill="none" stroke="#a4a4a4" stroke-width="0.75"/>
<rect x="136.5" y="345.1" width="2.2" height="2.2" fill="none" stroke="#a4a4a4" stroke-width="0.75"/>
<rect x="115.6" y="334.9" width="2.2" height="2.2" fill="none" stroke="#a4a4a4" stroke-width="0.75"/>
<rect x="114.7" y="346.3" width="2.2" height="2.2" fill="none" stroke="#a4a4a4" stroke-width="0.75"/>
<rect x="129.6" y="328.9" width="2.2" height="2.2" fill="none" stroke="#a4a4a4" stroke-width="0.75"/>
<rect x="113.3" y="366.9" width="2.2" height="2.2" fill="none" stroke="#a4a4a4" stroke-width="0.75"/>
<rect x="117.3" y="339.6" width="2.2" height="2.2" fill="none" stroke="#a4a4a4" stroke-width="0.75"/>
<rect x="136.0" y="343.9" width="2.2" height="2.2" fill="none" stroke="#a4a4a4" stroke-width="0.75"/>
<rect x="111.3" y="363.9" width="2.2" height="2.2" fill="none" stroke="#a4a4a4" stroke-width="0.75"/>
<rect x="104.1" y="357.5" width="2.2" height="2.2" fill="none" stroke="#a4a4a4" stroke-width="0.75"/>
<rect x="98.8" y="337.4" width="2.2" height="2.2" fill="none" stroke="#a4a4a4" stroke-width="0.75"/>
<rect x="133.1" y="343.1" width="2.2" height="2.2" fill="none" stroke="#a4a4a4" stroke-width="0.75"/>
<rect x="99.1" y="343.5" width="2.2" height="2.2" fill="none" stroke="#a4a4a4" stroke-width="0.75"/>
<rect x="117.4" y="340.8" width="2.2" height="2.2" fill="none" stroke="#a4a4a4" stroke-width="0.75"/>
<rect x="103.2" y="333.7" width="2.2" height="2.2" fill="none" stroke="#a4a4a4" stroke-width="0.75"/>
<rect x="134.6" y="357.0" width="2.2" height="2.2" fill="none" stroke="#a4a4a4" stroke-width="0.75"/>
<rect x="111.5" y="342.6" width="2.2" height="2.2" fill="none" stroke="#a4a4a4" stroke-width="0.75"/>
<rect x="131.7" y="330.9" width="2.2" height="2.2" fill="none" stroke="#a4a4a4" stroke-width="0.75"/>
<rect x="95.8" y="319.2" width="2.2" height="2.2" fill="#fff" stroke="#9c9c9c" stroke-width="0.75"/>
<rect x="98.2" y="323.2" width="2.2" height="2.2" fill="#fff" stroke="#9c9c9c" stroke-width="0.75"/>
<rect x="90.2" y="332.7" width="2.2" height="2.2" fill="#fff" stroke="#9c9c9c" stroke-width="0.75"/>
<rect x="99.7" y="327.9" width="2.2" height="2.2" fill="#fff" stroke="#9c9c9c" stroke-width="0.75"/>
<rect x="102.9" y="329.5" width="2.2" height="2.2" fill="#fff" stroke="#9c9c9c" stroke-width="0.75"/>
<rect x="105.3" y="329.5" width="2.2" height="2.2" fill="#fff" stroke="#9c9c9c" stroke-width="0.75"/>
<rect x="126.7" y="315.2" width="2.2" height="2.2" fill="#fff" stroke="#9c9c9c" stroke-width="0.75"/>
<rect x="129.9" y="316.0" width="2.2" height="2.2" fill="#fff" stroke="#9c9c9c" stroke-width="0.75"/>
<rect x="136.2" y="316.0" width="2.2" height="2.2" fill="#fff" stroke="#9c9c9c" stroke-width="0.75"/>
<rect x="139.4" y="316.9" width="2.2" height="2.2" fill="#fff" stroke="#9c9c9c" stroke-width="0.75"/>
<rect x="134.6" y="312.1" width="2.2" height="2.2" fill="#fff" stroke="#9c9c9c" stroke-width="0.75"/>
<rect x="136.2" y="309.7" width="2.2" height="2.2" fill="#fff" stroke="#9c9c9c" stroke-width="0.75"/>
<rect x="123.5" y="323.2" width="2.2" height="2.2" fill="#fff" stroke="#9c9c9c" stroke-width="0.75"/>
<rect x="127.5" y="325.5" width="2.2" height="2.2" fill="#fff" stroke="#9c9c9c" stroke-width="0.75"/>
<rect x="131.4" y="329.5" width="2.2" height="2.2" fill="#fff" stroke="#9c9c9c" stroke-width="0.75"/>
<rect x="139.4" y="337.4" width="2.2" height="2.2" fill="#fff" stroke="#9c9c9c" stroke-width="0.75"/>
<rect x="139.4" y="345.4" width="2.2" height="2.2" fill="#fff" stroke="#9c9c9c" stroke-width="0.75"/>
<rect x="136.2" y="359.6" width="2.2" height="2.2" fill="#fff" stroke="#9c9c9c" stroke-width="0.75"/>
<rect x="120.4" y="324.7" width="2.2" height="2.2" fill="#fff" stroke="#9c9c9c" stroke-width="0.75"/>
<rect x="117.9" y="329.5" width="2.2" height="2.2" fill="#fff" stroke="#9c9c9c" stroke-width="0.75"/>
<rect x="125.8" y="304.9" width="2.2" height="2.2" fill="#fff" stroke="#9c9c9c" stroke-width="0.75"/>
<rect x="133.9" y="304.9" width="2.2" height="2.2" fill="#fff" stroke="#9c9c9c" stroke-width="0.75"/>
<rect x="138.5" y="305.9" width="2.2" height="2.2" fill="#fff" stroke="#9c9c9c" stroke-width="0.75"/>
<rect x="134.3" y="312.4" width="2.2" height="2.2" fill="#fff" stroke="#9c9c9c" stroke-width="0.75"/>
<rect x="128.9" y="314.5" width="2.2" height="2.2" fill="#fff" stroke="#9c9c9c" stroke-width="0.75"/>
<rect x="85.6" y="316.6" width="2.2" height="2.2" fill="#fff" stroke="#9c9c9c" stroke-width="0.75"/>
<rect x="102.6" y="328.4" width="2.2" height="2.2" fill="#fff" stroke="#9c9c9c" stroke-width="0.75"/>
<rect x="147.9" y="357.9" width="2.2" height="2.2" fill="#fff" stroke="#9c9c9c" stroke-width="0.75"/>
<rect x="138.5" y="336.9" width="2.2" height="2.2" fill="#fff" stroke="#9c9c9c" stroke-width="0.75"/>
<rect x="165.2" y="287.2" width="2.2" height="2.2" fill="#fff" stroke="#9c9c9c" stroke-width="0.75"/>
<rect x="147.6" y="277.5" width="3.0" height="3.0" fill="#c455a8"/>
<text x="147" y="287.2" font-size="6.3" fill="#c455a8" text-anchor="start" >MCAK</text>
<rect x="163.9" y="327.4" width="3.0" height="3.0" fill="#e8a541"/>
<text x="165.4" y="337" font-size="6.3" fill="#e8a541" text-anchor="start" >GTSE1<tspan font-size="4.2" dy="-3">5xLID</tspan><tspan dy="3">-GFP</tspan></text>
<rect x="137.4" y="325.1" width="3.0" height="3.0" fill="#c455a8"/>
<text x="118.3" y="323.6" font-size="6.3" fill="#c455a8" text-anchor="start" >chTOG</text>
<rect x="132.6" y="350.5" width="3.0" height="3.0" fill="#c455a8"/>
<text x="136.5" y="357.5" font-size="6.3" fill="#c455a8" text-anchor="start" >CHC</text>
<rect x="111.2" y="364.0" width="3.0" height="3.0" fill="#c455a8"/>
<text x="91.3" y="363.2" font-size="6.3" fill="#c455a8" text-anchor="start" >TACC3</text>
<line x1="19.2" y1="369.1" x2="210.05" y2="369.1" stroke="#000" stroke-width="2.0"/>
<line x1="22.15" y1="276.4" x2="22.15" y2="373.40000000000003" stroke="#000" stroke-width="1.1"/>
<line x1="210.05" y1="276.4" x2="210.05" y2="373.40000000000003" stroke="#222" stroke-width="1.4"/>
<line x1="22.15" y1="373.40000000000003" x2="210.05" y2="373.40000000000003" stroke="#000" stroke-width="1.1"/>
<line x1="40.599999999999994" y1="373.40000000000003" x2="40.599999999999994" y2="376.40000000000003" stroke="#000" stroke-width="1.4"/>
<text x="39.99999999999999" y="383.3" font-size="6.7" fill="#222" text-anchor="middle" >-4</text>
<line x1="78.3" y1="373.40000000000003" x2="78.3" y2="376.40000000000003" stroke="#000" stroke-width="1.4"/>
<text x="77.7" y="383.3" font-size="6.7" fill="#222" text-anchor="middle" >-2</text>
<line x1="116.0" y1="373.40000000000003" x2="116.0" y2="376.40000000000003" stroke="#000" stroke-width="1.4"/>
<text x="116.0" y="383.3" font-size="6.7" fill="#222" text-anchor="middle" >0</text>
<line x1="153.7" y1="373.40000000000003" x2="153.7" y2="376.40000000000003" stroke="#000" stroke-width="1.4"/>
<text x="153.7" y="383.3" font-size="6.7" fill="#222" text-anchor="middle" >2</text>
<line x1="191.4" y1="373.40000000000003" x2="191.4" y2="376.40000000000003" stroke="#000" stroke-width="1.4"/>
<text x="191.4" y="383.3" font-size="6.7" fill="#222" text-anchor="middle" >4</text>
<line x1="19.2" y1="369.1" x2="22.15" y2="369.1" stroke="#000" stroke-width="1.8"/>
<text x="15.4" y="369.1" font-size="6.2" fill="#222" text-anchor="middle" transform="rotate(-90 15.4 369.1)" dy="2.2">0</text>
<line x1="19.2" y1="344.34000000000003" x2="22.15" y2="344.34000000000003" stroke="#000" stroke-width="1.8"/>
<text x="15.4" y="344.34000000000003" font-size="6.2" fill="#222" text-anchor="middle" transform="rotate(-90 15.4 344.34000000000003)" dy="2.2">2</text>
<line x1="19.2" y1="319.58000000000004" x2="22.15" y2="319.58000000000004" stroke="#000" stroke-width="1.8"/>
<text x="15.4" y="319.58000000000004" font-size="6.2" fill="#222" text-anchor="middle" transform="rotate(-90 15.4 319.58000000000004)" dy="2.2">4</text>
<line x1="19.2" y1="294.82000000000005" x2="22.15" y2="294.82000000000005" stroke="#000" stroke-width="1.8"/>
<text x="15.4" y="294.82000000000005" font-size="6.2" fill="#222" text-anchor="middle" transform="rotate(-90 15.4 294.82000000000005)" dy="2.2">6</text>
<text x="116.0" y="389.90000000000003" font-size="7.3" fill="#222" text-anchor="middle" >log2 (fold difference)</text>
<text x="8.8" y="324.9" font-size="7.3" fill="#222" text-anchor="middle" transform="rotate(-90 8.8 324.9)">log10 (p-value)</text>
<text x="24.8" y="284.4" font-size="6.4" fill="#333" text-anchor="start" font-style="italic">p=0,01</text>
<text x="25.1" y="291.5" font-size="6.4" fill="#333" text-anchor="start" font-style="italic">S0=2</text>
<text x="214.3" y="14.8" font-size="17.8" fill="#000" text-anchor="start" >D</text>
<text x="239.4" y="17.1" font-size="9.1" fill="#000" text-anchor="start" >GTSE1<tspan font-size="6.2" dy="-4.1" dx="1.0">WT</tspan></text>
<text x="287.1" y="17.1" font-size="9.1" fill="#000" text-anchor="start" >GTSE1<tspan font-size="6.2" dy="-4.1" dx="0.6">5xLID</tspan></text>
<rect x="234.2" y="19.8" width="49.4" height="3.3" fill="#5ba6e3"/>
<rect x="285.4" y="19.8" width="49.4" height="3.3" fill="#e8a541"/>
<rect x="234.2" y="25.2" width="100.8" height="150.8" fill="#d0d0d0"/>
<defs><filter id="mb1" x="-30%" y="-30%" width="160%" height="160%"><feGaussianBlur stdDeviation="3"/></filter><filter id="mb15" x="-30%" y="-30%" width="160%" height="160%"><feGaussianBlur stdDeviation="1.6"/></filter><filter id="mb2" x="-30%" y="-30%" width="160%" height="160%"><feGaussianBlur stdDeviation="1.0"/></filter><filter id="mb3" x="-30%" y="-30%" width="160%" height="160%"><feGaussianBlur stdDeviation="0.55"/></filter><filter id="mb35" x="-30%" y="-30%" width="160%" height="160%"><feGaussianBlur stdDeviation="0.8"/></filter><filter id="mb4" x="-30%" y="-30%" width="160%" height="160%"><feGaussianBlur stdDeviation="5"/></filter><clipPath id="t11"><rect x="234.2" y="25.2" width="49.5" height="48.7"/></clipPath><clipPath id="t12"><rect x="285.4" y="25.2" width="49.6" height="48.7"/></clipPath><clipPath id="t21"><rect x="234.2" y="75.8" width="49.5" height="49.0"/></clipPath><clipPath id="t22"><rect x="285.4" y="75.8" width="49.6" height="49.0"/></clipPath><clipPath id="t31"><rect x="234.2" y="126.9" width="49.5" height="49.1"/></clipPath><clipPath id="t32"><rect x="285.4" y="126.9" width="49.6" height="49.1"/></clipPath></defs>
<rect x="234.2" y="25.2" width="49.5" height="48.7" fill="#141414"/>
<rect x="285.4" y="25.2" width="49.6" height="48.7" fill="#141414"/>
<rect x="234.2" y="75.8" width="49.5" height="49.0" fill="#141414"/>
<rect x="285.4" y="75.8" width="49.6" height="49.0" fill="#141414"/>
<rect x="234.2" y="126.9" width="49.5" height="49.1" fill="#141414"/>
<rect x="285.4" y="126.9" width="49.6" height="49.1" fill="#141414"/>
<defs><filter id="mb25" x="-30%" y="-30%" width="160%" height="160%"><feGaussianBlur stdDeviation="2.4"/></filter></defs>
<g clip-path="url(#t11)"><g filter="url(#mb25)"><path d="M257.0,27.6 L272.4,31.4 L280.0,50.6 L276.2,66.0 L255.7,72.3 L239.1,62.0 L236.6,46.7 L241.7,32.7 Z" fill="#4a4a4a"/></g><g filter="url(#mb15)"><path d="M258.3,35.5 L269.0,50.6 L257.7,65.0 L246.5,50.6 Z" fill="#646464"/></g><g filter="url(#mb2)" opacity="0.35"><ellipse cx="256.1" cy="47.6" rx="1.08" ry="0.74" fill="#303030"/><ellipse cx="250.0" cy="33.1" rx="0.89" ry="0.68" fill="#303030"/><ellipse cx="265.6" cy="55.4" rx="1.40" ry="1.16" fill="#404040"/><ellipse cx="260.7" cy="65.1" rx="1.61" ry="0.97" fill="#707070"/><ellipse cx="254.5" cy="38.9" rx="0.96" ry="0.94" fill="#5a5a5a"/><ellipse cx="267.4" cy="57.4" rx="1.16" ry="0.85" fill="#5a5a5a"/><ellipse cx="263.7" cy="34.0" rx="1.34" ry="1.32" fill="#404040"/><ellipse cx="267.1" cy="55.1" rx="1.43" ry="1.36" fill="#5a5a5a"/><ellipse cx="243.9" cy="42.2" rx="0.85" ry="0.58" fill="#5a5a5a"/><ellipse cx="275.5" cy="48.3" rx="1.67" ry="1.25" fill="#404040"/><ellipse cx="250.4" cy="40.9" rx="1.17" ry="0.80" fill="#5a5a5a"/><ellipse cx="253.3" cy="34.2" rx="0.87" ry="0.74" fill="#707070"/><ellipse cx="264.1" cy="60.5" rx="1.79" ry="1.53" fill="#707070"/><ellipse cx="251.0" cy="33.2" rx="1.58" ry="1.09" fill="#303030"/><ellipse cx="262.1" cy="38.1" rx="0.87" ry="0.84" fill="#5a5a5a"/><ellipse cx="261.1" cy="63.7" rx="1.68" ry="1.44" fill="#707070"/><ellipse cx="257.1" cy="59.9" rx="1.36" ry="0.96" fill="#404040"/><ellipse cx="267.6" cy="42.4" rx="1.02" ry="1.02" fill="#404040"/><ellipse cx="261.5" cy="52.3" rx="0.91" ry="0.77" fill="#404040"/><ellipse cx="248.3" cy="42.9" rx="1.40" ry="1.10" fill="#5a5a5a"/><ellipse cx="275.3" cy="46.6" rx="0.81" ry="0.72" fill="#5a5a5a"/><ellipse cx="259.3" cy="38.4" rx="1.09" ry="0.73" fill="#303030"/><ellipse cx="275.0" cy="44.6" rx="1.06" ry="0.85" fill="#707070"/><ellipse cx="251.8" cy="49.7" rx="1.43" ry="1.34" fill="#707070"/><ellipse cx="267.5" cy="64.3" rx="1.34" ry="1.22" fill="#303030"/><ellipse cx="247.2" cy="41.9" rx="0.91" ry="0.68" fill="#5a5a5a"/><ellipse cx="258.6" cy="59.8" rx="1.37" ry="0.86" fill="#404040"/><ellipse cx="265.6" cy="31.9" rx="1.33" ry="0.87" fill="#404040"/><ellipse cx="265.3" cy="47.3" rx="1.33" ry="1.12" fill="#707070"/><ellipse cx="272.9" cy="42.5" rx="1.49" ry="1.32" fill="#404040"/><ellipse cx="273.3" cy="49.5" rx="1.24" ry="1.00" fill="#303030"/><ellipse cx="258.1" cy="55.1" rx="0.82" ry="0.67" fill="#707070"/><ellipse cx="274.0" cy="50.8" rx="0.86" ry="0.54" fill="#303030"/><ellipse cx="261.2" cy="45.9" rx="1.04" ry="0.90" fill="#707070"/><ellipse cx="242.3" cy="45.8" rx="1.68" ry="1.40" fill="#707070"/><ellipse cx="261.7" cy="32.5" rx="0.99" ry="0.63" fill="#404040"/><ellipse cx="250.6" cy="60.2" rx="1.66" ry="1.03" fill="#303030"/><ellipse cx="273.1" cy="56.3" rx="1.60" ry="1.03" fill="#707070"/><ellipse cx="262.7" cy="62.5" rx="1.22" ry="0.87" fill="#707070"/><ellipse cx="261.7" cy="46.1" rx="1.61" ry="1.52" fill="#303030"/><ellipse cx="276.0" cy="56.2" rx="1.64" ry="1.62" fill="#707070"/><ellipse cx="264.6" cy="62.1" rx="1.01" ry="0.77" fill="#303030"/><ellipse cx="258.5" cy="50.8" rx="1.19" ry="1.16" fill="#404040"/><ellipse cx="254.5" cy="66.3" rx="1.53" ry="1.40" fill="#404040"/><ellipse cx="263.8" cy="59.0" rx="1.77" ry="1.47" fill="#303030"/><ellipse cx="257.9" cy="45.2" rx="1.38" ry="1.11" fill="#707070"/><ellipse cx="270.7" cy="55.0" rx="1.65" ry="1.04" fill="#303030"/><ellipse cx="253.8" cy="41.4" rx="0.92" ry="0.88" fill="#707070"/><ellipse cx="254.7" cy="48.1" rx="0.88" ry="0.76" fill="#5a5a5a"/><ellipse cx="265.9" cy="46.4" rx="1.52" ry="1.05" fill="#404040"/><ellipse cx="268.4" cy="61.8" rx="1.26" ry="1.22" fill="#303030"/><ellipse cx="272.9" cy="50.9" rx="1.36" ry="0.87" fill="#707070"/><ellipse cx="251.1" cy="49.7" rx="1.15" ry="0.72" fill="#707070"/><ellipse cx="252.9" cy="55.8" rx="1.63" ry="1.44" fill="#303030"/><ellipse cx="251.0" cy="37.0" rx="1.73" ry="1.11" fill="#707070"/><ellipse cx="256.4" cy="68.8" rx="1.54" ry="1.02" fill="#5a5a5a"/><ellipse cx="245.3" cy="39.6" rx="1.00" ry="0.86" fill="#5a5a5a"/><ellipse cx="248.5" cy="49.7" rx="1.71" ry="1.06" fill="#404040"/><ellipse cx="259.9" cy="46.3" rx="1.13" ry="0.74" fill="#5a5a5a"/><ellipse cx="264.7" cy="61.3" rx="1.51" ry="1.24" fill="#303030"/><ellipse cx="273.9" cy="58.6" rx="1.70" ry="1.39" fill="#5a5a5a"/><ellipse cx="251.6" cy="46.2" rx="0.93" ry="0.67" fill="#303030"/><ellipse cx="265.0" cy="44.6" rx="1.05" ry="0.67" fill="#404040"/><ellipse cx="274.2" cy="47.2" rx="1.73" ry="1.20" fill="#707070"/><ellipse cx="274.9" cy="47.3" rx="1.68" ry="1.03" fill="#5a5a5a"/><ellipse cx="260.5" cy="37.4" rx="1.47" ry="1.31" fill="#707070"/><ellipse cx="256.2" cy="67.6" rx="0.91" ry="0.86" fill="#404040"/><ellipse cx="261.0" cy="67.8" rx="1.26" ry="0.91" fill="#707070"/><ellipse cx="260.6" cy="66.0" rx="1.20" ry="0.85" fill="#303030"/><ellipse cx="267.8" cy="47.8" rx="1.44" ry="1.10" fill="#5a5a5a"/><ellipse cx="264.0" cy="47.5" rx="1.77" ry="1.19" fill="#5a5a5a"/><ellipse cx="272.3" cy="53.7" rx="1.15" ry="1.05" fill="#404040"/><ellipse cx="247.3" cy="41.1" rx="1.19" ry="0.98" fill="#5a5a5a"/><ellipse cx="270.1" cy="53.6" rx="1.32" ry="1.22" fill="#707070"/><ellipse cx="254.7" cy="54.0" rx="1.46" ry="1.07" fill="#5a5a5a"/><ellipse cx="254.5" cy="44.0" rx="1.70" ry="1.36" fill="#404040"/><ellipse cx="250.7" cy="64.8" rx="1.35" ry="0.92" fill="#404040"/><ellipse cx="250.0" cy="32.9" rx="1.42" ry="1.02" fill="#303030"/><ellipse cx="255.1" cy="58.6" rx="1.59" ry="1.34" fill="#5a5a5a"/><ellipse cx="245.7" cy="52.9" rx="1.01" ry="0.80" fill="#707070"/><ellipse cx="252.5" cy="41.0" rx="1.46" ry="1.24" fill="#303030"/><ellipse cx="264.9" cy="34.2" rx="1.47" ry="1.02" fill="#707070"/><ellipse cx="260.5" cy="53.4" rx="1.78" ry="1.51" fill="#303030"/><ellipse cx="240.8" cy="55.2" rx="1.38" ry="1.22" fill="#404040"/><ellipse cx="248.6" cy="50.3" rx="1.46" ry="0.88" fill="#303030"/><ellipse cx="259.6" cy="40.8" rx="1.60" ry="1.41" fill="#404040"/><ellipse cx="267.0" cy="53.1" rx="1.65" ry="1.29" fill="#404040"/><ellipse cx="248.7" cy="32.7" rx="1.40" ry="1.37" fill="#404040"/><ellipse cx="245.8" cy="39.0" rx="1.30" ry="1.22" fill="#404040"/><ellipse cx="271.1" cy="39.6" rx="1.27" ry="0.90" fill="#707070"/><ellipse cx="263.4" cy="41.1" rx="1.58" ry="1.25" fill="#707070"/><ellipse cx="257.2" cy="55.5" rx="1.09" ry="0.77" fill="#5a5a5a"/><ellipse cx="262.2" cy="46.5" rx="0.95" ry="0.72" fill="#707070"/><ellipse cx="256.7" cy="45.1" rx="1.21" ry="0.99" fill="#404040"/><ellipse cx="274.0" cy="57.0" rx="1.19" ry="1.08" fill="#303030"/><ellipse cx="268.3" cy="36.3" rx="1.18" ry="0.71" fill="#5a5a5a"/><ellipse cx="254.4" cy="61.9" rx="1.69" ry="1.58" fill="#707070"/><ellipse cx="248.1" cy="50.8" rx="1.29" ry="0.97" fill="#404040"/><ellipse cx="255.2" cy="31.9" rx="1.72" ry="1.71" fill="#303030"/><ellipse cx="270.2" cy="41.5" rx="1.46" ry="0.93" fill="#404040"/><ellipse cx="266.5" cy="60.2" rx="0.85" ry="0.64" fill="#707070"/><ellipse cx="247.4" cy="53.3" rx="1.68" ry="1.19" fill="#404040"/><ellipse cx="257.9" cy="55.7" rx="0.82" ry="0.67" fill="#5a5a5a"/><ellipse cx="258.8" cy="55.2" rx="1.76" ry="1.08" fill="#303030"/><ellipse cx="266.1" cy="47.2" rx="0.82" ry="0.54" fill="#707070"/><ellipse cx="251.7" cy="51.1" rx="1.75" ry="1.37" fill="#5a5a5a"/><ellipse cx="258.8" cy="41.9" rx="1.41" ry="1.27" fill="#303030"/><ellipse cx="259.3" cy="42.0" rx="1.11" ry="0.92" fill="#5a5a5a"/><ellipse cx="241.9" cy="41.3" rx="1.18" ry="1.15" fill="#707070"/><ellipse cx="272.0" cy="57.6" rx="1.43" ry="0.91" fill="#5a5a5a"/><ellipse cx="266.7" cy="37.5" rx="0.92" ry="0.92" fill="#303030"/><ellipse cx="250.9" cy="60.7" rx="1.17" ry="0.94" fill="#5a5a5a"/><ellipse cx="270.3" cy="51.0" rx="1.29" ry="1.00" fill="#5a5a5a"/><ellipse cx="246.6" cy="36.3" rx="1.51" ry="1.17" fill="#5a5a5a"/><ellipse cx="244.4" cy="37.2" rx="1.57" ry="1.24" fill="#5a5a5a"/><ellipse cx="253.9" cy="58.9" rx="1.73" ry="1.23" fill="#404040"/><ellipse cx="258.5" cy="63.6" rx="1.41" ry="1.06" fill="#303030"/><ellipse cx="247.2" cy="50.4" rx="1.29" ry="0.96" fill="#5a5a5a"/><ellipse cx="248.4" cy="65.8" rx="1.50" ry="1.07" fill="#303030"/><ellipse cx="249.7" cy="49.1" rx="1.04" ry="0.79" fill="#707070"/></g><g filter="url(#mb15)"><path d="M248,49 Q252,46.5 256,48 Q260,46 263,48.5 Q267,46.5 270,49 L268.5,53.5 Q264,55.5 259,53 Q254,56 249.5,54 Z" fill="#303030"/></g></g>
<g clip-path="url(#t12)"><g filter="url(#mb4)"><rect x="287" y="28" width="46" height="44" rx="14" fill="#343434"/></g><g filter="url(#mb2)" opacity="0.5"><ellipse cx="302.4" cy="29.5" rx="1.59" ry="1.46" fill="#2a2a2a"/><ellipse cx="305.5" cy="64.9" rx="1.29" ry="1.12" fill="#3c3c3c"/><ellipse cx="291.3" cy="52.2" rx="1.51" ry="1.36" fill="#3c3c3c"/><ellipse cx="299.5" cy="63.1" rx="1.37" ry="0.95" fill="#444444"/><ellipse cx="313.2" cy="57.4" rx="1.64" ry="1.49" fill="#2a2a2a"/><ellipse cx="318.0" cy="69.9" rx="1.33" ry="1.11" fill="#444444"/><ellipse cx="288.9" cy="34.3" rx="2.00" ry="1.44" fill="#3c3c3c"/><ellipse cx="311.3" cy="51.8" rx="1.64" ry="1.16" fill="#2a2a2a"/><ellipse cx="289.5" cy="41.9" rx="1.15" ry="1.09" fill="#3c3c3c"/><ellipse cx="312.3" cy="50.7" rx="1.34" ry="1.06" fill="#3c3c3c"/><ellipse cx="312.4" cy="54.4" rx="2.13" ry="1.68" fill="#2a2a2a"/><ellipse cx="304.3" cy="53.1" rx="1.76" ry="1.09" fill="#2a2a2a"/><ellipse cx="319.5" cy="25.5" rx="1.10" ry="0.77" fill="#444444"/><ellipse cx="311.8" cy="28.8" rx="1.95" ry="1.35" fill="#444444"/><ellipse cx="291.9" cy="65.9" rx="1.36" ry="1.13" fill="#3c3c3c"/><ellipse cx="303.0" cy="68.3" rx="1.73" ry="1.55" fill="#2a2a2a"/><ellipse cx="300.6" cy="39.5" rx="1.10" ry="0.76" fill="#444444"/><ellipse cx="311.2" cy="49.6" rx="1.54" ry="1.29" fill="#3c3c3c"/><ellipse cx="323.7" cy="51.8" rx="1.34" ry="1.26" fill="#2a2a2a"/><ellipse cx="300.4" cy="25.9" rx="1.95" ry="1.65" fill="#444444"/><ellipse cx="313.8" cy="38.1" rx="1.14" ry="0.78" fill="#2a2a2a"/><ellipse cx="329.8" cy="36.1" rx="1.09" ry="0.72" fill="#3c3c3c"/><ellipse cx="290.5" cy="35.7" rx="2.11" ry="1.63" fill="#3c3c3c"/><ellipse cx="301.8" cy="28.8" rx="2.13" ry="1.71" fill="#3c3c3c"/><ellipse cx="291.4" cy="56.7" rx="2.07" ry="1.85" fill="#444444"/><ellipse cx="310.0" cy="56.9" rx="2.15" ry="2.01" fill="#444444"/><ellipse cx="306.8" cy="47.1" rx="1.92" ry="1.78" fill="#444444"/><ellipse cx="331.9" cy="54.7" rx="1.56" ry="1.35" fill="#3c3c3c"/><ellipse cx="318.3" cy="67.1" rx="1.76" ry="1.40" fill="#2a2a2a"/><ellipse cx="293.7" cy="52.1" rx="1.39" ry="0.89" fill="#2a2a2a"/><ellipse cx="299.6" cy="68.0" rx="1.35" ry="1.32" fill="#444444"/><ellipse cx="317.5" cy="50.8" rx="1.30" ry="0.84" fill="#3c3c3c"/><ellipse cx="325.6" cy="31.3" rx="1.00" ry="0.95" fill="#3c3c3c"/><ellipse cx="300.4" cy="54.8" rx="1.43" ry="1.29" fill="#444444"/><ellipse cx="304.5" cy="51.1" rx="1.32" ry="0.86" fill="#3c3c3c"/><ellipse cx="289.9" cy="57.2" rx="1.15" ry="1.13" fill="#444444"/><ellipse cx="316.7" cy="28.1" rx="1.37" ry="0.83" fill="#3c3c3c"/><ellipse cx="331.6" cy="63.3" rx="2.10" ry="1.64" fill="#2a2a2a"/><ellipse cx="303.9" cy="40.8" rx="2.12" ry="1.52" fill="#444444"/><ellipse cx="306.5" cy="72.5" rx="2.18" ry="1.52" fill="#444444"/><ellipse cx="317.0" cy="58.0" rx="1.72" ry="1.54" fill="#2a2a2a"/><ellipse cx="319.0" cy="38.7" rx="1.95" ry="1.49" fill="#444444"/><ellipse cx="309.9" cy="50.3" rx="1.87" ry="1.75" fill="#444444"/><ellipse cx="328.2" cy="48.9" rx="1.18" ry="0.96" fill="#3c3c3c"/><ellipse cx="298.8" cy="68.7" rx="1.45" ry="1.41" fill="#2a2a2a"/><ellipse cx="322.6" cy="47.5" rx="1.46" ry="1.38" fill="#3c3c3c"/><ellipse cx="331.6" cy="55.1" rx="1.85" ry="1.71" fill="#3c3c3c"/><ellipse cx="333.1" cy="47.3" rx="1.78" ry="1.18" fill="#2a2a2a"/><ellipse cx="327.9" cy="67.2" rx="1.40" ry="0.90" fill="#3c3c3c"/><ellipse cx="330.1" cy="63.5" rx="1.02" ry="0.67" fill="#444444"/><ellipse cx="317.0" cy="47.7" rx="1.94" ry="1.37" fill="#444444"/><ellipse cx="302.6" cy="29.4" rx="2.02" ry="1.90" fill="#444444"/><ellipse cx="299.3" cy="59.0" rx="1.86" ry="1.68" fill="#444444"/><ellipse cx="316.6" cy="50.5" rx="1.76" ry="1.70" fill="#2a2a2a"/><ellipse cx="309.7" cy="31.9" rx="1.12" ry="0.95" fill="#2a2a2a"/><ellipse cx="289.7" cy="56.5" rx="2.08" ry="1.29" fill="#2a2a2a"/><ellipse cx="305.7" cy="64.3" rx="1.17" ry="0.95" fill="#444444"/><ellipse cx="305.4" cy="39.0" rx="1.21" ry="1.02" fill="#3c3c3c"/><ellipse cx="300.7" cy="40.3" rx="2.10" ry="1.38" fill="#3c3c3c"/><ellipse cx="298.6" cy="35.6" rx="1.80" ry="1.73" fill="#3c3c3c"/><ellipse cx="327.4" cy="36.6" rx="1.19" ry="0.92" fill="#3c3c3c"/><ellipse cx="324.2" cy="47.9" rx="2.15" ry="1.89" fill="#3c3c3c"/><ellipse cx="316.5" cy="39.4" rx="1.46" ry="1.16" fill="#2a2a2a"/><ellipse cx="298.6" cy="59.6" rx="1.36" ry="1.19" fill="#2a2a2a"/><ellipse cx="330.9" cy="46.1" rx="1.33" ry="1.10" fill="#444444"/><ellipse cx="314.5" cy="23.8" rx="2.09" ry="1.88" fill="#3c3c3c"/><ellipse cx="312.0" cy="36.7" rx="1.96" ry="1.35" fill="#2a2a2a"/><ellipse cx="294.5" cy="34.3" rx="1.87" ry="1.61" fill="#2a2a2a"/><ellipse cx="292.9" cy="31.2" rx="1.78" ry="1.28" fill="#3c3c3c"/><ellipse cx="325.4" cy="52.3" rx="1.16" ry="1.12" fill="#3c3c3c"/><ellipse cx="309.8" cy="38.1" rx="1.16" ry="0.95" fill="#3c3c3c"/><ellipse cx="285.6" cy="44.2" rx="2.00" ry="1.40" fill="#3c3c3c"/><ellipse cx="323.8" cy="46.1" rx="2.04" ry="1.88" fill="#3c3c3c"/><ellipse cx="319.5" cy="46.7" rx="2.16" ry="2.04" fill="#444444"/><ellipse cx="302.5" cy="34.4" rx="2.01" ry="1.66" fill="#2a2a2a"/><ellipse cx="310.8" cy="46.0" rx="1.64" ry="1.29" fill="#444444"/><ellipse cx="309.9" cy="35.7" rx="1.46" ry="1.25" fill="#3c3c3c"/><ellipse cx="319.8" cy="56.9" rx="1.03" ry="0.98" fill="#444444"/><ellipse cx="300.4" cy="66.9" rx="1.78" ry="1.52" fill="#3c3c3c"/><ellipse cx="322.0" cy="41.3" rx="1.49" ry="0.98" fill="#2a2a2a"/><ellipse cx="303.9" cy="66.2" rx="1.12" ry="1.07" fill="#2a2a2a"/><ellipse cx="297.9" cy="59.2" rx="2.14" ry="1.88" fill="#444444"/><ellipse cx="290.4" cy="59.9" rx="1.19" ry="0.91" fill="#2a2a2a"/><ellipse cx="320.2" cy="31.4" rx="2.13" ry="1.51" fill="#444444"/><ellipse cx="298.1" cy="61.6" rx="2.14" ry="2.02" fill="#2a2a2a"/><ellipse cx="325.6" cy="47.1" rx="2.08" ry="1.79" fill="#2a2a2a"/><ellipse cx="300.9" cy="55.8" rx="1.15" ry="1.08" fill="#3c3c3c"/><ellipse cx="320.0" cy="55.5" rx="1.77" ry="1.75" fill="#2a2a2a"/><ellipse cx="312.9" cy="36.5" rx="1.15" ry="0.95" fill="#2a2a2a"/><ellipse cx="319.3" cy="32.0" rx="1.70" ry="1.58" fill="#2a2a2a"/><ellipse cx="305.3" cy="57.8" rx="2.08" ry="1.25" fill="#2a2a2a"/><ellipse cx="329.1" cy="47.5" rx="1.96" ry="1.26" fill="#2a2a2a"/><ellipse cx="320.5" cy="60.5" rx="1.95" ry="1.63" fill="#2a2a2a"/><ellipse cx="312.7" cy="54.3" rx="1.89" ry="1.53" fill="#444444"/><ellipse cx="326.0" cy="55.8" rx="1.43" ry="1.20" fill="#3c3c3c"/><ellipse cx="284.7" cy="48.4" rx="1.05" ry="0.96" fill="#444444"/><ellipse cx="292.6" cy="46.6" rx="2.16" ry="1.35" fill="#3c3c3c"/><ellipse cx="319.7" cy="35.1" rx="1.13" ry="1.00" fill="#3c3c3c"/><ellipse cx="316.6" cy="52.3" rx="1.73" ry="1.08" fill="#3c3c3c"/><ellipse cx="295.9" cy="35.0" rx="1.85" ry="1.40" fill="#444444"/><ellipse cx="292.8" cy="45.7" rx="1.73" ry="1.10" fill="#444444"/><ellipse cx="325.8" cy="62.9" rx="2.05" ry="1.68" fill="#2a2a2a"/><ellipse cx="287.8" cy="59.4" rx="1.50" ry="1.39" fill="#3c3c3c"/><ellipse cx="303.1" cy="53.0" rx="1.51" ry="1.31" fill="#3c3c3c"/><ellipse cx="330.6" cy="42.8" rx="1.57" ry="1.00" fill="#2a2a2a"/><ellipse cx="316.7" cy="53.5" rx="1.89" ry="1.74" fill="#444444"/><ellipse cx="333.6" cy="58.4" rx="1.67" ry="1.45" fill="#3c3c3c"/><ellipse cx="297.1" cy="65.9" rx="1.90" ry="1.80" fill="#444444"/><ellipse cx="323.2" cy="53.4" rx="1.37" ry="0.88" fill="#444444"/><ellipse cx="314.9" cy="69.5" rx="1.27" ry="0.82" fill="#444444"/><ellipse cx="294.7" cy="65.8" rx="1.69" ry="1.56" fill="#444444"/><ellipse cx="333.2" cy="45.3" rx="1.74" ry="1.49" fill="#2a2a2a"/><ellipse cx="293.7" cy="35.7" rx="1.83" ry="1.12" fill="#3c3c3c"/><ellipse cx="305.8" cy="35.2" rx="1.41" ry="0.85" fill="#2a2a2a"/><ellipse cx="294.9" cy="42.3" rx="1.17" ry="1.00" fill="#2a2a2a"/><ellipse cx="325.9" cy="59.3" rx="1.45" ry="1.13" fill="#2a2a2a"/><ellipse cx="294.9" cy="65.1" rx="1.93" ry="1.60" fill="#2a2a2a"/><ellipse cx="317.6" cy="42.1" rx="1.91" ry="1.18" fill="#2a2a2a"/><ellipse cx="307.1" cy="69.9" rx="1.58" ry="1.23" fill="#3c3c3c"/><ellipse cx="314.0" cy="67.2" rx="1.41" ry="0.91" fill="#444444"/><ellipse cx="302.1" cy="32.7" rx="1.80" ry="1.11" fill="#3c3c3c"/><ellipse cx="316.1" cy="48.4" rx="1.25" ry="1.22" fill="#2a2a2a"/><ellipse cx="311.2" cy="35.1" rx="1.14" ry="0.91" fill="#3c3c3c"/><ellipse cx="317.2" cy="63.3" rx="1.84" ry="1.48" fill="#444444"/><ellipse cx="312.4" cy="42.5" rx="2.03" ry="1.25" fill="#2a2a2a"/><ellipse cx="303.0" cy="50.8" rx="1.38" ry="1.06" fill="#3c3c3c"/><ellipse cx="305.8" cy="32.7" rx="1.14" ry="0.69" fill="#3c3c3c"/><ellipse cx="321.9" cy="71.3" rx="1.55" ry="1.36" fill="#3c3c3c"/><ellipse cx="330.3" cy="61.6" rx="1.29" ry="1.08" fill="#444444"/><ellipse cx="331.4" cy="60.5" rx="1.89" ry="1.30" fill="#2a2a2a"/><ellipse cx="328.4" cy="58.6" rx="1.64" ry="1.11" fill="#3c3c3c"/><ellipse cx="294.9" cy="69.5" rx="1.77" ry="1.17" fill="#2a2a2a"/><ellipse cx="317.0" cy="58.2" rx="1.72" ry="1.56" fill="#444444"/><ellipse cx="332.6" cy="60.6" rx="1.75" ry="1.38" fill="#444444"/><ellipse cx="311.1" cy="31.6" rx="2.11" ry="1.74" fill="#444444"/><ellipse cx="324.7" cy="47.8" rx="2.17" ry="1.57" fill="#3c3c3c"/><ellipse cx="325.7" cy="56.2" rx="1.36" ry="0.97" fill="#2a2a2a"/><ellipse cx="305.8" cy="54.7" rx="1.55" ry="0.96" fill="#3c3c3c"/><ellipse cx="313.5" cy="42.7" rx="2.04" ry="1.92" fill="#444444"/><ellipse cx="296.6" cy="40.0" rx="1.70" ry="1.67" fill="#444444"/></g></g>
<g clip-path="url(#t21)"><g filter="url(#mb1)"><ellipse cx="259" cy="101" rx="19" ry="22" fill="#1c1c1c"/></g><g filter="url(#mb15)"><path d="M258.5,84.1 L270.6,101.1 L259.5,119.4 L247.0,99.8 Z" fill="#3e3e3e"/></g><g filter="url(#mb35)" fill="none"><line x1="258.5" y1="84" x2="250.0" y2="80.9" stroke="#3a3a3a" stroke-width="0.5"/><line x1="258.5" y1="84" x2="251.4" y2="78.5" stroke="#3a3a3a" stroke-width="0.5"/><line x1="258.5" y1="84" x2="253.5" y2="76.5" stroke="#3a3a3a" stroke-width="0.5"/><line x1="258.5" y1="84" x2="256.0" y2="75.3" stroke="#3a3a3a" stroke-width="0.5"/><line x1="258.5" y1="84" x2="258.8" y2="75.0" stroke="#3a3a3a" stroke-width="0.5"/><line x1="258.5" y1="84" x2="261.6" y2="75.5" stroke="#3a3a3a" stroke-width="0.5"/><line x1="258.5" y1="84" x2="264.0" y2="76.9" stroke="#3a3a3a" stroke-width="0.5"/><line x1="258.5" y1="84" x2="266.0" y2="79.0" stroke="#3a3a3a" stroke-width="0.5"/><line x1="259.5" y1="119.5" x2="268.0" y2="122.6" stroke="#333" stroke-width="0.5"/><line x1="259.5" y1="119.5" x2="266.6" y2="125.0" stroke="#333" stroke-width="0.5"/><line x1="259.5" y1="119.5" x2="264.5" y2="127.0" stroke="#333" stroke-width="0.5"/><line x1="259.5" y1="119.5" x2="262.0" y2="128.2" stroke="#333" stroke-width="0.5"/><line x1="259.5" y1="119.5" x2="259.2" y2="128.5" stroke="#333" stroke-width="0.5"/><line x1="259.5" y1="119.5" x2="256.4" y2="128.0" stroke="#333" stroke-width="0.5"/><line x1="259.5" y1="119.5" x2="254.0" y2="126.6" stroke="#333" stroke-width="0.5"/><line x1="259.5" y1="119.5" x2="252.0" y2="124.5" stroke="#333" stroke-width="0.5"/><path d="M258.6,84.1 Q250.2,90.5 247.1,102.0 Q250.6,111.0 259.1,119.4" stroke="#d0d0d0" stroke-width="1.04"/><path d="M258.0,84.1 Q251.2,90.5 248.4,99.8 Q251.6,111.0 259.0,119.4" stroke="#d0d0d0" stroke-width="0.91"/><path d="M258.0,84.1 Q252.6,90.5 250.4,102.2 Q253.0,111.0 259.7,119.4" stroke="#bcbcbc" stroke-width="0.96"/><path d="M258.5,84.1 Q253.1,90.5 251.0,102.3 Q253.5,111.0 259.6,119.4" stroke="#6e6e6e" stroke-width="0.97"/><path d="M258.8,84.1 Q254.5,90.5 253.1,100.5 Q254.9,111.0 259.7,119.4" stroke="#bcbcbc" stroke-width="0.78"/><path d="M258.0,84.1 Q255.4,90.5 254.3,99.5 Q255.8,111.0 259.7,119.4" stroke="#bcbcbc" stroke-width="0.78"/><path d="M258.3,84.1 Q256.8,90.5 256.3,101.9 Q257.2,111.0 259.6,119.4" stroke="#9a9a9a" stroke-width="1.04"/><path d="M258.7,84.1 Q257.9,90.5 257.8,100.2 Q258.3,111.0 259.7,119.4" stroke="#bcbcbc" stroke-width="0.97"/><path d="M258.4,84.1 Q259.1,90.5 259.4,100.2 Q259.5,111.0 259.8,119.4" stroke="#8a8a8a" stroke-width="1.02"/><path d="M258.7,84.1 Q260.9,90.5 261.8,99.6 Q261.3,111.0 259.5,119.4" stroke="#9a9a9a" stroke-width="0.77"/><path d="M258.2,84.1 Q261.4,90.5 262.6,99.8 Q261.8,111.0 260.0,119.4" stroke="#bcbcbc" stroke-width="0.94"/><path d="M258.1,84.1 Q263.0,90.5 264.8,102.3 Q263.4,111.0 259.3,119.4" stroke="#a8a8a8" stroke-width="0.90"/><path d="M258.9,84.1 Q264.4,90.5 266.8,101.6 Q264.8,111.0 260.0,119.4" stroke="#9a9a9a" stroke-width="0.85"/><path d="M258.6,84.1 Q265.0,90.5 267.5,101.9 Q265.4,111.0 259.6,119.4" stroke="#bcbcbc" stroke-width="0.97"/><path d="M258.8,84.1 Q266.2,90.5 269.3,101.8 Q266.6,111.0 259.9,119.4" stroke="#d0d0d0" stroke-width="0.97"/><path d="M258.3,84.1 Q267.4,90.5 271.0,99.4 Q267.8,111.0 259.8,119.4" stroke="#d0d0d0" stroke-width="0.88"/><circle cx="258.5" cy="85" r="1.5" fill="#e8e8e8"/><circle cx="259.5" cy="118.5" r="1.3" fill="#d0d0d0"/></g></g>
<g clip-path="url(#t22)"><g filter="url(#mb1)"><ellipse cx="312" cy="100" rx="22" ry="22" fill="#1c1c1c"/></g><g transform="translate(313.2 100.5) rotate(-52)"><g filter="url(#mb15)"><ellipse cx="0" cy="0" rx="19" ry="11.5" fill="#383838"/></g><g filter="url(#mb35)" fill="none"><path d="M-19.5,0.5 C-11,-15.6 9,-16.6 19.5,0.4" stroke="#c4c4c4" stroke-width="1.00"/><path d="M-19.5,-0.7 C-11,-13.2 9,-14.1 19.5,-0.0" stroke="#c4c4c4" stroke-width="0.93"/><path d="M-19.5,0.3 C-11,-10.1 9,-10.7 19.5,0.0" stroke="#8a8a8a" stroke-width="0.79"/><path d="M-19.5,0.4 C-11,-7.6 9,-8.1 19.5,-0.3" stroke="#8a8a8a" stroke-width="0.85"/><path d="M-19.5,0.5 C-11,-3.6 9,-3.8 19.5,-0.5" stroke="#a4a4a4" stroke-width="0.86"/><path d="M-19.5,0.6 C-11,-0.8 9,-0.8 19.5,0.5" stroke="#707070" stroke-width="0.77"/><path d="M-19.5,0.0 C-11,1.3 9,1.4 19.5,-0.3" stroke="#707070" stroke-width="0.90"/><path d="M-19.5,-0.4 C-11,5.0 9,5.3 19.5,-0.2" stroke="#b8b8b8" stroke-width="1.03"/><path d="M-19.5,0.5 C-11,6.4 9,6.8 19.5,-0.4" stroke="#b8b8b8" stroke-width="0.91"/><path d="M-19.5,0.3 C-11,9.5 9,10.1 19.5,-0.4" stroke="#707070" stroke-width="0.79"/><path d="M-19.5,0.2 C-11,13.0 9,13.8 19.5,0.5" stroke="#707070" stroke-width="1.07"/><path d="M-19.5,0.5 C-11,14.8 9,15.7 19.5,0.1" stroke="#c4c4c4" stroke-width="0.96"/></g></g></g>
<g clip-path="url(#t31)"><g filter="url(#mb4)"><ellipse cx="259" cy="151.5" rx="23" ry="23" fill="#2e2e2e"/></g><g filter="url(#mb2)"><path d="M240.5,149.5 L247.0,143.6 L254.9,144.3 L264.0,143.6 L273.2,144.3 L277.1,148.2 L277.1,154.1 L271.9,160.6 L260.1,160.6 L251.0,159.3 L241.8,158.6 L239.9,154.7 Z" fill="#b8b8b8"/></g><g filter="url(#mb2)"><ellipse cx="248.8" cy="152.9" rx="2.19" ry="1.67" transform="rotate(113 248.8 152.9)" fill="#c8c8c8"/><ellipse cx="262.4" cy="159.0" rx="2.35" ry="1.75" transform="rotate(35 262.4 159.0)" fill="#e0e0e0"/><ellipse cx="260.0" cy="152.9" rx="2.24" ry="1.90" transform="rotate(42 260.0 152.9)" fill="#d4d4d4"/><ellipse cx="272.2" cy="152.5" rx="2.79" ry="2.19" transform="rotate(12 272.2 152.5)" fill="#c8c8c8"/><ellipse cx="251.1" cy="144.1" rx="2.98" ry="2.14" transform="rotate(129 251.1 144.1)" fill="#e0e0e0"/><ellipse cx="266.5" cy="159.3" rx="2.23" ry="1.85" transform="rotate(80 266.5 159.3)" fill="#d4d4d4"/><ellipse cx="272.6" cy="145.3" rx="1.82" ry="1.14" transform="rotate(174 272.6 145.3)" fill="#e0e0e0"/><ellipse cx="268.9" cy="158.1" rx="2.27" ry="1.91" transform="rotate(103 268.9 158.1)" fill="#e0e0e0"/><ellipse cx="261.6" cy="159.0" rx="2.69" ry="2.36" transform="rotate(154 261.6 159.0)" fill="#d4d4d4"/><ellipse cx="265.9" cy="149.1" rx="2.47" ry="1.85" transform="rotate(19 265.9 149.1)" fill="#d4d4d4"/><ellipse cx="263.4" cy="160.4" rx="2.03" ry="1.20" transform="rotate(87 263.4 160.4)" fill="#e0e0e0"/><ellipse cx="243.2" cy="157.2" rx="2.26" ry="1.36" transform="rotate(53 243.2 157.2)" fill="#e0e0e0"/><ellipse cx="272.4" cy="144.4" rx="2.58" ry="1.46" transform="rotate(129 272.4 144.4)" fill="#bcbcbc"/><ellipse cx="260.4" cy="159.3" rx="2.05" ry="1.29" transform="rotate(6 260.4 159.3)" fill="#c8c8c8"/><ellipse cx="242.8" cy="153.8" rx="1.65" ry="1.02" transform="rotate(73 242.8 153.8)" fill="#bcbcbc"/><ellipse cx="272.2" cy="148.9" rx="3.13" ry="2.71" transform="rotate(68 272.2 148.9)" fill="#e0e0e0"/><ellipse cx="272.3" cy="150.2" rx="2.99" ry="2.35" transform="rotate(18 272.3 150.2)" fill="#bcbcbc"/><ellipse cx="255.9" cy="155.8" rx="1.98" ry="1.30" transform="rotate(176 255.9 155.8)" fill="#bcbcbc"/><ellipse cx="255.3" cy="153.5" rx="1.63" ry="1.25" transform="rotate(114 255.3 153.5)" fill="#c8c8c8"/><ellipse cx="263.5" cy="149.3" rx="2.16" ry="1.89" transform="rotate(110 263.5 149.3)" fill="#bcbcbc"/><ellipse cx="267.4" cy="144.0" rx="1.70" ry="1.33" transform="rotate(173 267.4 144.0)" fill="#bcbcbc"/><ellipse cx="263.3" cy="148.7" rx="2.56" ry="1.57" transform="rotate(33 263.3 148.7)" fill="#bcbcbc"/><ellipse cx="271.3" cy="148.1" rx="2.86" ry="1.68" transform="rotate(146 271.3 148.1)" fill="#d4d4d4"/><ellipse cx="251.4" cy="147.4" rx="2.89" ry="1.83" transform="rotate(34 251.4 147.4)" fill="#e0e0e0"/><ellipse cx="264.1" cy="145.2" rx="2.56" ry="2.26" transform="rotate(121 264.1 145.2)" fill="#d4d4d4"/><ellipse cx="256.2" cy="158.1" rx="1.87" ry="1.25" transform="rotate(117 256.2 158.1)" fill="#e0e0e0"/><ellipse cx="250.0" cy="157.0" rx="1.65" ry="1.46" transform="rotate(57 250.0 157.0)" fill="#d4d4d4"/><ellipse cx="272.0" cy="149.4" rx="2.92" ry="1.70" transform="rotate(111 272.0 149.4)" fill="#d4d4d4"/><ellipse cx="255.6" cy="152.4" rx="2.96" ry="2.11" transform="rotate(114 255.6 152.4)" fill="#bcbcbc"/><ellipse cx="255.5" cy="150.6" rx="3.07" ry="1.86" transform="rotate(1 255.5 150.6)" fill="#e0e0e0"/><ellipse cx="260.7" cy="160.4" rx="2.75" ry="1.54" transform="rotate(82 260.7 160.4)" fill="#bcbcbc"/><ellipse cx="260.1" cy="158.7" rx="2.98" ry="2.53" transform="rotate(175 260.1 158.7)" fill="#c8c8c8"/><ellipse cx="270.0" cy="144.4" rx="3.05" ry="2.41" transform="rotate(166 270.0 144.4)" fill="#e0e0e0"/><ellipse cx="261.4" cy="143.8" rx="2.79" ry="1.70" transform="rotate(54 261.4 143.8)" fill="#c8c8c8"/><ellipse cx="259.4" cy="150.6" rx="3.10" ry="2.37" transform="rotate(61 259.4 150.6)" fill="#bcbcbc"/><ellipse cx="276.1" cy="152.8" rx="2.90" ry="1.66" transform="rotate(40 276.1 152.8)" fill="#c8c8c8"/><ellipse cx="259.8" cy="157.5" rx="1.87" ry="1.55" transform="rotate(166 259.8 157.5)" fill="#d4d4d4"/><ellipse cx="263.3" cy="158.3" rx="1.68" ry="1.08" transform="rotate(48 263.3 158.3)" fill="#e0e0e0"/><ellipse cx="241.8" cy="149.1" rx="2.91" ry="2.47" transform="rotate(140 241.8 149.1)" fill="#c8c8c8"/><ellipse cx="243.1" cy="152.1" rx="2.11" ry="1.39" transform="rotate(63 243.1 152.1)" fill="#e0e0e0"/><ellipse cx="261.7" cy="149.7" rx="1.91" ry="1.27" transform="rotate(22 261.7 149.7)" fill="#c8c8c8"/><ellipse cx="266.5" cy="150.1" rx="1.73" ry="1.06" transform="rotate(67 266.5 150.1)" fill="#e0e0e0"/><ellipse cx="263.6" cy="144.3" rx="3.02" ry="1.72" transform="rotate(113 263.6 144.3)" fill="#bcbcbc"/><ellipse cx="255.5" cy="155.4" rx="2.34" ry="1.49" transform="rotate(96 255.5 155.4)" fill="#c8c8c8"/><ellipse cx="269.8" cy="147.4" rx="1.81" ry="1.01" transform="rotate(59 269.8 147.4)" fill="#bcbcbc"/><ellipse cx="244.4" cy="155.3" rx="3.10" ry="2.50" transform="rotate(153 244.4 155.3)" fill="#e0e0e0"/><ellipse cx="264.7" cy="156.1" rx="2.50" ry="1.47" transform="rotate(106 264.7 156.1)" fill="#c8c8c8"/><ellipse cx="257.5" cy="147.6" rx="2.22" ry="1.63" transform="rotate(102 257.5 147.6)" fill="#e0e0e0"/><ellipse cx="246.6" cy="144.0" rx="2.95" ry="1.75" transform="rotate(152 246.6 144.0)" fill="#e0e0e0"/><ellipse cx="271.0" cy="159.8" rx="2.53" ry="2.10" transform="rotate(7 271.0 159.8)" fill="#d4d4d4"/><ellipse cx="243.9" cy="156.3" rx="3.10" ry="1.77" transform="rotate(58 243.9 156.3)" fill="#d4d4d4"/><ellipse cx="270.7" cy="147.7" rx="1.89" ry="1.20" transform="rotate(111 270.7 147.7)" fill="#e0e0e0"/><ellipse cx="249.3" cy="153.8" rx="3.10" ry="2.31" transform="rotate(174 249.3 153.8)" fill="#e0e0e0"/><ellipse cx="258.5" cy="160.1" rx="2.26" ry="1.83" transform="rotate(29 258.5 160.1)" fill="#e0e0e0"/><ellipse cx="245.7" cy="150.4" rx="3.02" ry="1.83" transform="rotate(90 245.7 150.4)" fill="#e0e0e0"/><ellipse cx="274.0" cy="152.4" rx="2.31" ry="1.85" transform="rotate(33 274.0 152.4)" fill="#bcbcbc"/><ellipse cx="267.9" cy="146.1" rx="2.42" ry="2.13" transform="rotate(153 267.9 146.1)" fill="#bcbcbc"/><ellipse cx="264.9" cy="158.1" rx="2.55" ry="1.93" transform="rotate(177 264.9 158.1)" fill="#d4d4d4"/><ellipse cx="251.3" cy="148.2" rx="2.89" ry="1.79" transform="rotate(103 251.3 148.2)" fill="#d4d4d4"/><ellipse cx="251.9" cy="156.8" rx="1.83" ry="1.64" transform="rotate(86 251.9 156.8)" fill="#d4d4d4"/><ellipse cx="257.3" cy="157.8" rx="2.91" ry="2.17" transform="rotate(87 257.3 157.8)" fill="#c8c8c8"/><ellipse cx="271.8" cy="150.4" rx="2.77" ry="2.46" transform="rotate(84 271.8 150.4)" fill="#d4d4d4"/><ellipse cx="273.0" cy="154.6" rx="2.84" ry="1.63" transform="rotate(39 273.0 154.6)" fill="#bcbcbc"/><ellipse cx="248.9" cy="146.8" rx="2.01" ry="1.24" transform="rotate(127 248.9 146.8)" fill="#c8c8c8"/><ellipse cx="273.4" cy="147.9" rx="2.98" ry="1.97" transform="rotate(76 273.4 147.9)" fill="#c8c8c8"/><ellipse cx="244.3" cy="148.1" rx="3.06" ry="1.72" transform="rotate(81 244.3 148.1)" fill="#bcbcbc"/><ellipse cx="256.1" cy="151.9" rx="1.94" ry="1.46" transform="rotate(172 256.1 151.9)" fill="#e0e0e0"/><ellipse cx="244.6" cy="149.0" rx="3.01" ry="1.74" transform="rotate(78 244.6 149.0)" fill="#e0e0e0"/><ellipse cx="272.9" cy="159.0" rx="1.76" ry="1.54" transform="rotate(67 272.9 159.0)" fill="#bcbcbc"/><ellipse cx="268.1" cy="148.6" rx="2.68" ry="2.09" transform="rotate(145 268.1 148.6)" fill="#bcbcbc"/></g><g filter="url(#mb35)" opacity="0.55"><ellipse cx="248.7" cy="145.4" rx="1.12" ry="0.67" transform="rotate(12 248.7 145.4)" fill="#f0f0f0"/><ellipse cx="260.3" cy="148.5" rx="1.59" ry="0.91" transform="rotate(94 260.3 148.5)" fill="#a8a8a8"/><ellipse cx="250.2" cy="146.5" rx="0.88" ry="0.55" transform="rotate(167 250.2 146.5)" fill="#a8a8a8"/><ellipse cx="269.7" cy="146.9" rx="1.05" ry="0.81" transform="rotate(132 269.7 146.9)" fill="#a8a8a8"/><ellipse cx="243.1" cy="153.9" rx="1.34" ry="0.97" transform="rotate(32 243.1 153.9)" fill="#f0f0f0"/><ellipse cx="270.3" cy="159.6" rx="1.47" ry="0.81" transform="rotate(53 270.3 159.6)" fill="#a8a8a8"/><ellipse cx="271.4" cy="152.2" rx="1.13" ry="0.86" transform="rotate(78 271.4 152.2)" fill="#9a9a9a"/><ellipse cx="248.6" cy="148.0" rx="1.44" ry="0.83" transform="rotate(83 248.6 148.0)" fill="#a8a8a8"/><ellipse cx="259.2" cy="154.6" rx="1.36" ry="0.82" transform="rotate(121 259.2 154.6)" fill="#eaeaea"/><ellipse cx="255.3" cy="147.0" rx="1.31" ry="0.84" transform="rotate(64 255.3 147.0)" fill="#a8a8a8"/><ellipse cx="263.5" cy="147.0" rx="1.06" ry="0.89" transform="rotate(127 263.5 147.0)" fill="#a8a8a8"/><ellipse cx="268.4" cy="154.1" rx="0.99" ry="0.66" transform="rotate(32 268.4 154.1)" fill="#f0f0f0"/><ellipse cx="240.9" cy="149.7" rx="0.87" ry="0.77" transform="rotate(51 240.9 149.7)" fill="#a8a8a8"/><ellipse cx="255.2" cy="159.6" rx="1.30" ry="1.08" transform="rotate(53 255.2 159.6)" fill="#9a9a9a"/><ellipse cx="273.2" cy="148.6" rx="1.00" ry="0.76" transform="rotate(29 273.2 148.6)" fill="#eaeaea"/><ellipse cx="253.4" cy="151.3" rx="1.09" ry="0.91" transform="rotate(179 253.4 151.3)" fill="#eaeaea"/><ellipse cx="256.2" cy="147.1" rx="1.53" ry="0.90" transform="rotate(11 256.2 147.1)" fill="#9a9a9a"/><ellipse cx="262.1" cy="160.1" rx="1.29" ry="0.95" transform="rotate(105 262.1 160.1)" fill="#a8a8a8"/><ellipse cx="259.6" cy="156.8" rx="1.13" ry="1.01" transform="rotate(86 259.6 156.8)" fill="#9a9a9a"/><ellipse cx="256.2" cy="152.0" rx="0.98" ry="0.69" transform="rotate(117 256.2 152.0)" fill="#f0f0f0"/><ellipse cx="270.8" cy="152.1" rx="0.83" ry="0.53" transform="rotate(44 270.8 152.1)" fill="#9a9a9a"/><ellipse cx="268.6" cy="150.7" rx="1.01" ry="0.67" transform="rotate(160 268.6 150.7)" fill="#a8a8a8"/><ellipse cx="260.9" cy="160.4" rx="1.12" ry="0.97" transform="rotate(118 260.9 160.4)" fill="#eaeaea"/><ellipse cx="258.3" cy="145.2" rx="0.97" ry="0.83" transform="rotate(162 258.3 145.2)" fill="#9a9a9a"/><ellipse cx="252.4" cy="154.8" rx="1.44" ry="1.12" transform="rotate(147 252.4 154.8)" fill="#9a9a9a"/><ellipse cx="264.3" cy="155.3" rx="1.01" ry="0.89" transform="rotate(172 264.3 155.3)" fill="#eaeaea"/><ellipse cx="271.8" cy="148.4" rx="1.30" ry="0.80" transform="rotate(71 271.8 148.4)" fill="#9a9a9a"/><ellipse cx="268.4" cy="148.2" rx="1.49" ry="1.27" transform="rotate(124 268.4 148.2)" fill="#f0f0f0"/><ellipse cx="261.1" cy="156.3" rx="1.54" ry="0.97" transform="rotate(1 261.1 156.3)" fill="#9a9a9a"/><ellipse cx="244.2" cy="157.4" rx="1.43" ry="1.22" transform="rotate(99 244.2 157.4)" fill="#9a9a9a"/><ellipse cx="245.9" cy="153.9" rx="1.45" ry="1.09" transform="rotate(141 245.9 153.9)" fill="#f0f0f0"/><ellipse cx="262.0" cy="151.9" rx="1.49" ry="1.14" transform="rotate(25 262.0 151.9)" fill="#a8a8a8"/><ellipse cx="242.9" cy="158.5" rx="1.52" ry="1.00" transform="rotate(62 242.9 158.5)" fill="#eaeaea"/><ellipse cx="243.1" cy="152.8" rx="1.10" ry="0.91" transform="rotate(56 243.1 152.8)" fill="#9a9a9a"/><ellipse cx="268.1" cy="158.1" rx="1.12" ry="0.65" transform="rotate(165 268.1 158.1)" fill="#a8a8a8"/><ellipse cx="259.0" cy="151.0" rx="1.49" ry="1.22" transform="rotate(12 259.0 151.0)" fill="#9a9a9a"/><ellipse cx="263.6" cy="159.4" rx="1.18" ry="0.70" transform="rotate(100 263.6 159.4)" fill="#a8a8a8"/><ellipse cx="272.4" cy="146.6" rx="0.92" ry="0.66" transform="rotate(61 272.4 146.6)" fill="#eaeaea"/><ellipse cx="251.5" cy="152.9" rx="1.19" ry="0.95" transform="rotate(87 251.5 152.9)" fill="#eaeaea"/><ellipse cx="259.3" cy="150.6" rx="1.03" ry="0.65" transform="rotate(32 259.3 150.6)" fill="#eaeaea"/></g></g>
<g clip-path="url(#t32)"><g filter="url(#mb4)"><ellipse cx="311" cy="151" rx="25" ry="25" fill="#2e2e2e"/></g><g filter="url(#mb2)"><path d="M304.6,131.2 L307.8,133.8 L307.2,137.7 L315.0,141.7 L319.0,148.2 L328.1,152.1 L331.3,158.6 L330.7,163.9 L324.2,165.2 L315.0,163.9 L311.1,165.2 L308.5,158.6 L299.4,152.1 L294.1,148.2 L292.8,141.7 L298.0,139.0 L302.0,137.7 L303.3,133.8 Z" fill="#b4b4b4"/></g><g filter="url(#mb2)"><ellipse cx="316.8" cy="156.4" rx="2.87" ry="2.53" transform="rotate(133 316.8 156.4)" fill="#c4c4c4"/><ellipse cx="325.2" cy="157.6" rx="2.00" ry="1.14" transform="rotate(28 325.2 157.6)" fill="#b8b8b8"/><ellipse cx="310.9" cy="139.6" rx="2.47" ry="1.85" transform="rotate(2 310.9 139.6)" fill="#d0d0d0"/><ellipse cx="316.6" cy="146.3" rx="1.81" ry="1.61" transform="rotate(1 316.6 146.3)" fill="#d0d0d0"/><ellipse cx="299.2" cy="141.9" rx="1.92" ry="1.64" transform="rotate(113 299.2 141.9)" fill="#d0d0d0"/><ellipse cx="329.0" cy="154.7" rx="3.15" ry="2.71" transform="rotate(54 329.0 154.7)" fill="#b8b8b8"/><ellipse cx="303.0" cy="142.5" rx="2.91" ry="2.20" transform="rotate(107 303.0 142.5)" fill="#b8b8b8"/><ellipse cx="295.3" cy="143.3" rx="2.09" ry="1.66" transform="rotate(33 295.3 143.3)" fill="#dcdcdc"/><ellipse cx="321.7" cy="159.9" rx="1.63" ry="1.35" transform="rotate(66 321.7 159.9)" fill="#c4c4c4"/><ellipse cx="310.2" cy="155.3" rx="2.60" ry="2.30" transform="rotate(21 310.2 155.3)" fill="#d0d0d0"/><ellipse cx="328.6" cy="163.2" rx="2.15" ry="1.45" transform="rotate(94 328.6 163.2)" fill="#dcdcdc"/><ellipse cx="323.5" cy="160.4" rx="1.66" ry="1.46" transform="rotate(16 323.5 160.4)" fill="#b8b8b8"/><ellipse cx="312.5" cy="143.5" rx="1.84" ry="1.19" transform="rotate(126 312.5 143.5)" fill="#c4c4c4"/><ellipse cx="304.8" cy="142.0" rx="1.88" ry="1.09" transform="rotate(27 304.8 142.0)" fill="#b8b8b8"/><ellipse cx="313.3" cy="145.0" rx="1.98" ry="1.50" transform="rotate(149 313.3 145.0)" fill="#dcdcdc"/><ellipse cx="299.3" cy="143.9" rx="1.69" ry="1.18" transform="rotate(25 299.3 143.9)" fill="#d0d0d0"/><ellipse cx="311.6" cy="156.0" rx="2.37" ry="1.54" transform="rotate(73 311.6 156.0)" fill="#d0d0d0"/><ellipse cx="328.9" cy="160.7" rx="1.89" ry="1.36" transform="rotate(93 328.9 160.7)" fill="#b8b8b8"/><ellipse cx="306.5" cy="151.2" rx="1.65" ry="1.09" transform="rotate(101 306.5 151.2)" fill="#b8b8b8"/><ellipse cx="311.1" cy="157.5" rx="2.12" ry="1.37" transform="rotate(52 311.1 157.5)" fill="#b8b8b8"/><ellipse cx="306.2" cy="153.1" rx="2.78" ry="2.34" transform="rotate(63 306.2 153.1)" fill="#d0d0d0"/><ellipse cx="326.3" cy="154.6" rx="3.16" ry="2.80" transform="rotate(93 326.3 154.6)" fill="#d0d0d0"/><ellipse cx="300.4" cy="143.5" rx="2.97" ry="1.93" transform="rotate(14 300.4 143.5)" fill="#dcdcdc"/><ellipse cx="315.2" cy="153.8" rx="2.27" ry="1.75" transform="rotate(139 315.2 153.8)" fill="#b8b8b8"/><ellipse cx="299.0" cy="146.2" rx="2.64" ry="1.65" transform="rotate(123 299.0 146.2)" fill="#c4c4c4"/><ellipse cx="311.4" cy="149.8" rx="2.26" ry="1.52" transform="rotate(119 311.4 149.8)" fill="#c4c4c4"/><ellipse cx="308.4" cy="140.7" rx="2.26" ry="1.33" transform="rotate(150 308.4 140.7)" fill="#b8b8b8"/><ellipse cx="304.4" cy="141.2" rx="2.42" ry="2.14" transform="rotate(53 304.4 141.2)" fill="#b8b8b8"/><ellipse cx="324.1" cy="153.0" rx="2.19" ry="1.31" transform="rotate(107 324.1 153.0)" fill="#dcdcdc"/><ellipse cx="317.0" cy="161.5" rx="2.20" ry="1.54" transform="rotate(41 317.0 161.5)" fill="#b8b8b8"/><ellipse cx="311.3" cy="155.3" rx="2.21" ry="1.88" transform="rotate(29 311.3 155.3)" fill="#b8b8b8"/><ellipse cx="307.9" cy="147.5" rx="2.50" ry="1.59" transform="rotate(85 307.9 147.5)" fill="#c4c4c4"/><ellipse cx="302.3" cy="140.3" rx="1.85" ry="1.66" transform="rotate(53 302.3 140.3)" fill="#dcdcdc"/><ellipse cx="312.8" cy="160.6" rx="3.01" ry="2.60" transform="rotate(3 312.8 160.6)" fill="#d0d0d0"/><ellipse cx="304.4" cy="149.3" rx="2.14" ry="1.40" transform="rotate(95 304.4 149.3)" fill="#dcdcdc"/><ellipse cx="306.3" cy="154.4" rx="2.90" ry="1.73" transform="rotate(1 306.3 154.4)" fill="#dcdcdc"/><ellipse cx="309.3" cy="158.7" rx="2.55" ry="2.02" transform="rotate(172 309.3 158.7)" fill="#dcdcdc"/><ellipse cx="325.9" cy="159.8" rx="2.36" ry="1.86" transform="rotate(130 325.9 159.8)" fill="#b8b8b8"/><ellipse cx="310.7" cy="157.0" rx="2.09" ry="1.15" transform="rotate(140 310.7 157.0)" fill="#b8b8b8"/><ellipse cx="317.8" cy="147.3" rx="2.10" ry="1.28" transform="rotate(125 317.8 147.3)" fill="#dcdcdc"/><ellipse cx="309.2" cy="149.6" rx="1.68" ry="1.35" transform="rotate(48 309.2 149.6)" fill="#c4c4c4"/><ellipse cx="323.3" cy="153.8" rx="1.64" ry="1.32" transform="rotate(176 323.3 153.8)" fill="#dcdcdc"/><ellipse cx="317.7" cy="163.6" rx="2.74" ry="1.64" transform="rotate(53 317.7 163.6)" fill="#dcdcdc"/><ellipse cx="297.0" cy="144.1" rx="1.72" ry="0.98" transform="rotate(104 297.0 144.1)" fill="#dcdcdc"/><ellipse cx="309.4" cy="141.9" rx="2.56" ry="1.85" transform="rotate(169 309.4 141.9)" fill="#b8b8b8"/><ellipse cx="304.1" cy="150.5" rx="2.68" ry="1.75" transform="rotate(170 304.1 150.5)" fill="#d0d0d0"/><ellipse cx="302.9" cy="150.0" rx="2.01" ry="1.63" transform="rotate(93 302.9 150.0)" fill="#d0d0d0"/><ellipse cx="323.9" cy="160.6" rx="2.33" ry="1.60" transform="rotate(24 323.9 160.6)" fill="#c4c4c4"/><ellipse cx="311.3" cy="142.2" rx="2.87" ry="1.61" transform="rotate(131 311.3 142.2)" fill="#c4c4c4"/><ellipse cx="325.5" cy="163.3" rx="2.29" ry="1.89" transform="rotate(135 325.5 163.3)" fill="#c4c4c4"/><ellipse cx="301.8" cy="142.5" rx="2.58" ry="1.74" transform="rotate(69 301.8 142.5)" fill="#d0d0d0"/><ellipse cx="304.2" cy="152.7" rx="3.14" ry="2.12" transform="rotate(7 304.2 152.7)" fill="#d0d0d0"/><ellipse cx="310.9" cy="161.5" rx="2.59" ry="1.81" transform="rotate(84 310.9 161.5)" fill="#c4c4c4"/><ellipse cx="324.3" cy="156.7" rx="2.68" ry="1.50" transform="rotate(161 324.3 156.7)" fill="#b8b8b8"/><ellipse cx="328.9" cy="154.6" rx="2.68" ry="1.92" transform="rotate(170 328.9 154.6)" fill="#c4c4c4"/><ellipse cx="310.3" cy="139.4" rx="3.19" ry="1.79" transform="rotate(129 310.3 139.4)" fill="#d0d0d0"/><ellipse cx="318.1" cy="152.2" rx="3.06" ry="2.44" transform="rotate(122 318.1 152.2)" fill="#d0d0d0"/><ellipse cx="310.8" cy="140.8" rx="2.77" ry="2.22" transform="rotate(29 310.8 140.8)" fill="#d0d0d0"/><ellipse cx="310.6" cy="146.6" rx="2.69" ry="1.64" transform="rotate(6 310.6 146.6)" fill="#b8b8b8"/><ellipse cx="329.0" cy="155.6" rx="1.98" ry="1.64" transform="rotate(17 329.0 155.6)" fill="#dcdcdc"/><ellipse cx="294.7" cy="144.7" rx="1.70" ry="1.08" transform="rotate(73 294.7 144.7)" fill="#b8b8b8"/><ellipse cx="317.5" cy="161.0" rx="3.12" ry="1.93" transform="rotate(125 317.5 161.0)" fill="#dcdcdc"/><ellipse cx="300.0" cy="139.1" rx="3.08" ry="2.55" transform="rotate(16 300.0 139.1)" fill="#d0d0d0"/><ellipse cx="315.8" cy="160.3" rx="1.94" ry="1.08" transform="rotate(97 315.8 160.3)" fill="#dcdcdc"/><ellipse cx="309.1" cy="157.3" rx="2.44" ry="1.45" transform="rotate(2 309.1 157.3)" fill="#b8b8b8"/><ellipse cx="319.3" cy="161.5" rx="3.20" ry="2.38" transform="rotate(25 319.3 161.5)" fill="#dcdcdc"/><ellipse cx="309.3" cy="150.8" rx="1.99" ry="1.14" transform="rotate(126 309.3 150.8)" fill="#c4c4c4"/><ellipse cx="319.9" cy="158.3" rx="3.01" ry="2.59" transform="rotate(13 319.9 158.3)" fill="#b8b8b8"/><ellipse cx="307.4" cy="157.4" rx="1.60" ry="1.04" transform="rotate(169 307.4 157.4)" fill="#d0d0d0"/><ellipse cx="314.9" cy="146.2" rx="2.91" ry="2.27" transform="rotate(172 314.9 146.2)" fill="#c4c4c4"/><ellipse cx="299.3" cy="140.1" rx="2.68" ry="1.74" transform="rotate(11 299.3 140.1)" fill="#c4c4c4"/><ellipse cx="297.8" cy="143.3" rx="2.98" ry="2.63" transform="rotate(110 297.8 143.3)" fill="#d0d0d0"/><ellipse cx="300.5" cy="143.4" rx="1.86" ry="1.43" transform="rotate(29 300.5 143.4)" fill="#c4c4c4"/><ellipse cx="303.1" cy="151.8" rx="2.61" ry="1.57" transform="rotate(138 303.1 151.8)" fill="#dcdcdc"/><ellipse cx="310.5" cy="146.0" rx="2.31" ry="1.89" transform="rotate(169 310.5 146.0)" fill="#dcdcdc"/><ellipse cx="315.0" cy="147.6" rx="3.01" ry="2.07" transform="rotate(39 315.0 147.6)" fill="#b8b8b8"/><ellipse cx="312.7" cy="157.2" rx="2.86" ry="1.94" transform="rotate(146 312.7 157.2)" fill="#c4c4c4"/><ellipse cx="316.6" cy="144.8" rx="1.83" ry="1.54" transform="rotate(88 316.6 144.8)" fill="#c4c4c4"/><ellipse cx="296.4" cy="144.7" rx="2.81" ry="1.82" transform="rotate(166 296.4 144.7)" fill="#b8b8b8"/><ellipse cx="311.2" cy="147.2" rx="2.45" ry="1.43" transform="rotate(36 311.2 147.2)" fill="#c4c4c4"/><ellipse cx="297" cy="161.6" rx="4.4" ry="2.1" transform="rotate(28 297 161.6)" fill="#c8c8c8"/></g><g filter="url(#mb35)" opacity="0.55"><ellipse cx="323.3" cy="159.1" rx="1.19" ry="0.76" transform="rotate(0 323.3 159.1)" fill="#f0f0f0"/><ellipse cx="330.0" cy="156.2" rx="1.06" ry="0.59" transform="rotate(88 330.0 156.2)" fill="#9a9a9a"/><ellipse cx="313.5" cy="154.4" rx="0.95" ry="0.71" transform="rotate(145 313.5 154.4)" fill="#a8a8a8"/><ellipse cx="318.3" cy="151.9" rx="0.87" ry="0.61" transform="rotate(178 318.3 151.9)" fill="#a8a8a8"/><ellipse cx="323.6" cy="158.6" rx="1.16" ry="0.67" transform="rotate(35 323.6 158.6)" fill="#a8a8a8"/><ellipse cx="327.6" cy="159.3" rx="1.53" ry="1.10" transform="rotate(150 327.6 159.3)" fill="#9a9a9a"/><ellipse cx="312.6" cy="153.1" rx="1.36" ry="1.13" transform="rotate(176 312.6 153.1)" fill="#eaeaea"/><ellipse cx="309.3" cy="143.4" rx="0.90" ry="0.65" transform="rotate(122 309.3 143.4)" fill="#9a9a9a"/><ellipse cx="304.8" cy="137.9" rx="1.19" ry="0.71" transform="rotate(38 304.8 137.9)" fill="#eaeaea"/><ellipse cx="317.7" cy="150.2" rx="1.34" ry="1.02" transform="rotate(67 317.7 150.2)" fill="#f0f0f0"/><ellipse cx="303.9" cy="154.3" rx="1.19" ry="0.73" transform="rotate(107 303.9 154.3)" fill="#f0f0f0"/><ellipse cx="296.5" cy="146.2" rx="1.44" ry="0.84" transform="rotate(109 296.5 146.2)" fill="#f0f0f0"/><ellipse cx="310.0" cy="159.5" rx="1.44" ry="1.05" transform="rotate(85 310.0 159.5)" fill="#f0f0f0"/><ellipse cx="320.6" cy="164.0" rx="0.81" ry="0.60" transform="rotate(45 320.6 164.0)" fill="#a8a8a8"/><ellipse cx="300.0" cy="148.3" rx="1.06" ry="0.78" transform="rotate(177 300.0 148.3)" fill="#f0f0f0"/><ellipse cx="311.1" cy="147.5" rx="0.91" ry="0.62" transform="rotate(55 311.1 147.5)" fill="#f0f0f0"/><ellipse cx="305.3" cy="153.6" rx="1.58" ry="1.38" transform="rotate(68 305.3 153.6)" fill="#a8a8a8"/><ellipse cx="305.1" cy="144.7" rx="1.19" ry="0.99" transform="rotate(169 305.1 144.7)" fill="#a8a8a8"/><ellipse cx="314.4" cy="152.4" rx="1.57" ry="0.96" transform="rotate(110 314.4 152.4)" fill="#eaeaea"/><ellipse cx="315.5" cy="162.5" rx="0.92" ry="0.59" transform="rotate(3 315.5 162.5)" fill="#f0f0f0"/><ellipse cx="305.1" cy="132.5" rx="1.33" ry="1.07" transform="rotate(8 305.1 132.5)" fill="#f0f0f0"/><ellipse cx="310.6" cy="161.8" rx="1.30" ry="1.04" transform="rotate(23 310.6 161.8)" fill="#eaeaea"/><ellipse cx="318.0" cy="148.2" rx="0.82" ry="0.63" transform="rotate(147 318.0 148.2)" fill="#9a9a9a"/><ellipse cx="317.4" cy="149.4" rx="0.83" ry="0.50" transform="rotate(67 317.4 149.4)" fill="#eaeaea"/><ellipse cx="329.4" cy="156.4" rx="1.40" ry="0.87" transform="rotate(78 329.4 156.4)" fill="#eaeaea"/><ellipse cx="321.4" cy="152.9" rx="0.90" ry="0.61" transform="rotate(176 321.4 152.9)" fill="#9a9a9a"/><ellipse cx="303.6" cy="136.3" rx="1.25" ry="0.86" transform="rotate(40 303.6 136.3)" fill="#9a9a9a"/><ellipse cx="319.6" cy="155.5" rx="0.90" ry="0.71" transform="rotate(136 319.6 155.5)" fill="#9a9a9a"/><ellipse cx="322.1" cy="160.3" rx="1.22" ry="0.68" transform="rotate(152 322.1 160.3)" fill="#9a9a9a"/><ellipse cx="320.4" cy="153.1" rx="1.44" ry="0.98" transform="rotate(120 320.4 153.1)" fill="#9a9a9a"/><ellipse cx="296.7" cy="143.7" rx="0.83" ry="0.61" transform="rotate(142 296.7 143.7)" fill="#9a9a9a"/><ellipse cx="322.2" cy="154.6" rx="1.56" ry="0.91" transform="rotate(14 322.2 154.6)" fill="#eaeaea"/><ellipse cx="328.2" cy="156.7" rx="1.34" ry="1.08" transform="rotate(117 328.2 156.7)" fill="#a8a8a8"/><ellipse cx="302.6" cy="139.1" rx="1.45" ry="1.13" transform="rotate(96 302.6 139.1)" fill="#9a9a9a"/><ellipse cx="313.1" cy="156.1" rx="1.58" ry="1.40" transform="rotate(157 313.1 156.1)" fill="#a8a8a8"/><ellipse cx="306.9" cy="135.2" rx="1.56" ry="0.87" transform="rotate(166 306.9 135.2)" fill="#a8a8a8"/><ellipse cx="309.6" cy="159.5" rx="0.84" ry="0.50" transform="rotate(2 309.6 159.5)" fill="#eaeaea"/><ellipse cx="311.5" cy="147.0" rx="1.01" ry="0.80" transform="rotate(111 311.5 147.0)" fill="#9a9a9a"/><ellipse cx="297.9" cy="145.5" rx="0.95" ry="0.84" transform="rotate(69 297.9 145.5)" fill="#f0f0f0"/><ellipse cx="314.5" cy="152.5" rx="1.18" ry="0.76" transform="rotate(25 314.5 152.5)" fill="#eaeaea"/><ellipse cx="300.2" cy="146.4" rx="1.45" ry="1.09" transform="rotate(171 300.2 146.4)" fill="#eaeaea"/><ellipse cx="315.6" cy="147.3" rx="1.49" ry="1.10" transform="rotate(125 315.6 147.3)" fill="#f0f0f0"/><ellipse cx="301.1" cy="153.1" rx="1.11" ry="0.91" transform="rotate(82 301.1 153.1)" fill="#eaeaea"/><ellipse cx="305.8" cy="139.8" rx="0.91" ry="0.62" transform="rotate(154 305.8 139.8)" fill="#a8a8a8"/><ellipse cx="299.6" cy="145.1" rx="1.30" ry="0.82" transform="rotate(116 299.6 145.1)" fill="#9a9a9a"/><ellipse cx="307.4" cy="135.5" rx="1.53" ry="1.29" transform="rotate(94 307.4 135.5)" fill="#eaeaea"/><ellipse cx="312.8" cy="157.6" rx="1.19" ry="0.81" transform="rotate(179 312.8 157.6)" fill="#f0f0f0"/><ellipse cx="326.2" cy="153.3" rx="1.44" ry="0.82" transform="rotate(24 326.2 153.3)" fill="#eaeaea"/><ellipse cx="315.5" cy="152.0" rx="1.59" ry="1.33" transform="rotate(91 315.5 152.0)" fill="#eaeaea"/><ellipse cx="297.6" cy="147.5" rx="1.54" ry="1.18" transform="rotate(131 297.6 147.5)" fill="#9a9a9a"/></g></g>
<text x="327.9" y="171.6" font-size="5.6" fill="#fff" text-anchor="middle" >5 µm</text>
<rect x="320" y="173.2" width="14" height="1.6" fill="#f0f0f0"/>
<g transform="rotate(-90 232.6 51.2)"><text x="232.6" y="46.545" font-size="9.3" text-anchor="middle" transform="scale(1 1.1)">GFP</text></g>
<g transform="rotate(-90 232.6 100)"><text x="232.6" y="90.909" font-size="9.3" text-anchor="middle" transform="scale(1 1.1)">Tubulin</text></g>
<g transform="rotate(-90 232.6 149.2)"><text x="232.6" y="135.636" font-size="9.3" text-anchor="middle" transform="scale(1 1.1)">DNA</text></g>
<text x="245.5" y="185.1" font-size="8.7" fill="#000" text-anchor="start" textLength="26.9" lengthAdjust="spacingAndGlyphs">GTSE1</text>
<text x="296.2" y="185.1" font-size="8.7" fill="#000" text-anchor="start" textLength="26.9" lengthAdjust="spacingAndGlyphs">GTSE1</text>
<text x="270.9" y="192.7" font-size="9.3" fill="#000" text-anchor="start" textLength="25.7" lengthAdjust="spacingAndGlyphs">siRNA</text>
<text x="220.2" y="218.0" font-size="18.8" fill="#000" text-anchor="start" >E</text>
<rect x="247.3" y="218.8" width="39.8" height="15.4" fill="#5ba6e3"/>
<rect x="291.9" y="218.8" width="40.4" height="15.4" fill="#e8a541"/>
<text x="251.9" y="230.4" font-size="7.0" fill="#1a1a1a" text-anchor="start" ><tspan textLength="22.3" lengthAdjust="spacingAndGlyphs">GTSE1</tspan><tspan font-size="4.8" dy="-3.3" dx="0.3">WT</tspan></text>
<text x="294.8" y="230.4" font-size="7.0" fill="#1a1a1a" text-anchor="start" ><tspan textLength="22.2" lengthAdjust="spacingAndGlyphs">GTSE1</tspan><tspan font-size="4.8" dy="-3.3" dx="0.3">5xLID</tspan></text>
<line x1="247.2" y1="235" x2="247.2" y2="368" stroke="#555" stroke-width="0.9"/>
<line x1="245" y1="360.3" x2="247.2" y2="360.3" stroke="#555" stroke-width="0.8"/>
<text x="242.5" y="362.40000000000003" font-size="6.0" fill="#555" text-anchor="end" >0</text>
<line x1="245" y1="330.1" x2="247.2" y2="330.1" stroke="#555" stroke-width="0.8"/>
<text x="242.5" y="332.15000000000003" font-size="6.0" fill="#555" text-anchor="end" >1</text>
<line x1="245" y1="299.8" x2="247.2" y2="299.8" stroke="#555" stroke-width="0.8"/>
<text x="242.5" y="301.90000000000003" font-size="6.0" fill="#555" text-anchor="end" >2</text>
<line x1="245" y1="269.6" x2="247.2" y2="269.6" stroke="#555" stroke-width="0.8"/>
<text x="242.5" y="271.65000000000003" font-size="6.0" fill="#555" text-anchor="end" >3</text>
<line x1="245" y1="239.3" x2="247.2" y2="239.3" stroke="#555" stroke-width="0.8"/>
<text x="242.5" y="241.4" font-size="6.0" fill="#555" text-anchor="end" >4</text>
<line x1="267.2" y1="240.8" x2="267.2" y2="317.3" stroke="#333" stroke-width="0.6"/>
<rect x="254.6" y="269.6" width="25.3" height="31.5" fill="#5ba6e3" stroke="#333" stroke-width="0.6"/>
<line x1="254.6" y1="287.7" x2="279.9" y2="287.7" stroke="#333" stroke-width="0.9"/>
<circle cx="267.2" cy="240.8" r="1.25" fill="#000"/>
<circle cx="267.2" cy="245.4" r="1.25" fill="#000"/>
<circle cx="267.2" cy="250.8" r="1.25" fill="#000"/>
<circle cx="267.2" cy="252.9" r="1.25" fill="#000"/>
<circle cx="267.2" cy="254.4" r="1.25" fill="#000"/>
<circle cx="267.2" cy="257.5" r="1.25" fill="#000"/>
<circle cx="267.2" cy="260.5" r="1.25" fill="#000"/>
<circle cx="267.2" cy="265.9" r="1.25" fill="#000"/>
<circle cx="267.2" cy="271.1" r="1.25" fill="#000"/>
<circle cx="267.2" cy="272.6" r="1.25" fill="#000"/>
<circle cx="267.2" cy="275.6" r="1.25" fill="#000"/>
<circle cx="267.2" cy="277.1" r="1.25" fill="#000"/>
<circle cx="267.2" cy="278.6" r="1.25" fill="#000"/>
<circle cx="267.2" cy="281.6" r="1.25" fill="#000"/>
<circle cx="267.2" cy="283.2" r="1.25" fill="#000"/>
<circle cx="267.2" cy="284.7" r="1.25" fill="#000"/>
<circle cx="267.2" cy="286.2" r="1.25" fill="#000"/>
<circle cx="267.2" cy="287.7" r="1.25" fill="#000"/>
<circle cx="267.2" cy="289.2" r="1.25" fill="#000"/>
<circle cx="267.2" cy="290.7" r="1.25" fill="#000"/>
<circle cx="267.2" cy="292.2" r="1.25" fill="#000"/>
<circle cx="267.2" cy="293.8" r="1.25" fill="#000"/>
<circle cx="267.2" cy="295.3" r="1.25" fill="#000"/>
<circle cx="267.2" cy="296.8" r="1.25" fill="#000"/>
<circle cx="267.2" cy="298.3" r="1.25" fill="#000"/>
<circle cx="267.2" cy="299.8" r="1.25" fill="#000"/>
<circle cx="267.2" cy="301.3" r="1.25" fill="#000"/>
<circle cx="267.2" cy="304.3" r="1.25" fill="#000"/>
<circle cx="267.2" cy="306.5" r="1.25" fill="#000"/>
<circle cx="267.2" cy="308.9" r="1.25" fill="#000"/>
<circle cx="267.2" cy="310.4" r="1.25" fill="#000"/>
<circle cx="267.2" cy="314.9" r="1.25" fill="#000"/>
<circle cx="267.2" cy="316.4" r="1.25" fill="#000"/>
<circle cx="267.2" cy="317.3" r="1.25" fill="#000"/>
<line x1="311.9" y1="292.2" x2="311.9" y2="363.9" stroke="#333" stroke-width="0.6"/>
<rect x="299.2" y="332.5" width="25.5" height="19.1" fill="#e8a541" stroke="#333" stroke-width="0.6"/>
<line x1="299.2" y1="346.4" x2="324.7" y2="346.4" stroke="#333" stroke-width="0.9"/>
<circle cx="311.9" cy="292.2" r="1.25" fill="#000"/>
<circle cx="311.9" cy="300.7" r="1.25" fill="#000"/>
<circle cx="311.9" cy="309.5" r="1.25" fill="#000"/>
<circle cx="311.9" cy="314.9" r="1.25" fill="#000"/>
<circle cx="311.9" cy="319.5" r="1.25" fill="#000"/>
<circle cx="311.9" cy="324.0" r="1.25" fill="#000"/>
<circle cx="311.9" cy="328.5" r="1.25" fill="#000"/>
<circle cx="311.9" cy="330.7" r="1.25" fill="#000"/>
<circle cx="311.9" cy="333.1" r="1.25" fill="#000"/>
<circle cx="311.9" cy="334.6" r="1.25" fill="#000"/>
<circle cx="311.9" cy="336.1" r="1.25" fill="#000"/>
<circle cx="311.9" cy="337.6" r="1.25" fill="#000"/>
<circle cx="311.9" cy="339.1" r="1.25" fill="#000"/>
<circle cx="311.9" cy="340.6" r="1.25" fill="#000"/>
<circle cx="311.9" cy="342.2" r="1.25" fill="#000"/>
<circle cx="311.9" cy="343.7" r="1.25" fill="#000"/>
<circle cx="311.9" cy="345.2" r="1.25" fill="#000"/>
<circle cx="311.9" cy="346.7" r="1.25" fill="#000"/>
<circle cx="311.9" cy="348.2" r="1.25" fill="#000"/>
<circle cx="311.9" cy="349.7" r="1.25" fill="#000"/>
<circle cx="311.9" cy="351.2" r="1.25" fill="#000"/>
<circle cx="311.9" cy="352.7" r="1.25" fill="#000"/>
<circle cx="311.9" cy="354.2" r="1.25" fill="#000"/>
<circle cx="311.9" cy="355.8" r="1.25" fill="#000"/>
<circle cx="311.9" cy="357.3" r="1.25" fill="#000"/>
<circle cx="311.9" cy="358.8" r="1.25" fill="#000"/>
<circle cx="311.9" cy="360.3" r="1.25" fill="#000"/>
<circle cx="311.9" cy="363.9" r="1.25" fill="#000"/>
<text x="312.5" y="277.9" font-size="5.0" fill="#b8b8b8" text-anchor="middle" font-style="italic">p&lt;0.001</text>
<line x1="247.2" y1="370" x2="287.4" y2="370" stroke="#555" stroke-width="0.9"/>
<line x1="292.5" y1="370" x2="332.6" y2="370" stroke="#555" stroke-width="0.9"/>
<line x1="267.2" y1="370" x2="267.2" y2="372" stroke="#555" stroke-width="0.8"/>
<line x1="311.9" y1="370" x2="311.9" y2="372" stroke="#555" stroke-width="0.8"/>
<text x="267.8" y="378.2" font-size="6.0" fill="#555" text-anchor="middle" >GTSE1</text>
<text x="311.9" y="378.2" font-size="6.0" fill="#555" text-anchor="middle" >GTSE1</text>
<text x="290" y="385.8" font-size="7.4" fill="#111" text-anchor="middle" >siRNA</text>
<text x="235.2" y="302.5" font-size="7.3" fill="#111" text-anchor="middle" transform="rotate(-90 235.2 302.5)">Spindle GFP / Spindle tub. (a.u.)</text>
<text x="344.4" y="13.3" font-size="17.8" fill="#000" text-anchor="start" >F</text>
<line x1="374.4" y1="59.80" x2="505.6" y2="59.80" stroke="#e6e6e6" stroke-width="0.8"/>
<line x1="374.4" y1="47.02" x2="505.6" y2="47.02" stroke="#e6e6e6" stroke-width="0.8"/>
<line x1="374.4" y1="34.25" x2="505.6" y2="34.25" stroke="#e6e6e6" stroke-width="0.8"/>
<line x1="374.4" y1="21.47" x2="505.6" y2="21.47" stroke="#e6e6e6" stroke-width="0.8"/>
<line x1="374.4" y1="8.70" x2="505.6" y2="8.70" stroke="#e6e6e6" stroke-width="0.8"/>
<line x1="415.30" y1="6.3" x2="415.30" y2="62.099999999999994" stroke="#e6e6e6" stroke-width="0.8"/>
<line x1="455.60" y1="6.3" x2="455.60" y2="62.099999999999994" stroke="#e6e6e6" stroke-width="0.8"/>
<line x1="495.90" y1="6.3" x2="495.90" y2="62.099999999999994" stroke="#e6e6e6" stroke-width="0.8"/>
<path d="M375.00,59.80 L380.64,59.80 L381.85,57.24 L382.66,52.13 L383.46,47.02 L384.67,39.36 L386.04,33.23 L387.69,27.61 L391.12,21.99 L394.59,18.92 L400.39,15.60 L408.45,12.79 L417.72,11.51 L435.45,11.00 L475.75,10.49 L505.98,10.23" fill="none" stroke="#8e8e8e" stroke-width="1.2"/>
<path d="M375.00,59.80 L380.64,59.80 L381.05,58.78 L382.25,53.67 L383.06,44.47 L383.87,31.69 L384.67,21.47 L385.88,16.88 L387.49,13.81 L390.31,11.77 L394.34,10.74 L399.18,9.47 L407.24,8.96 L423.36,8.70 L505.98,8.70" fill="none" stroke="#111" stroke-width="1.7"/>
<text x="408.5" y="29.7" font-size="5.3" fill="#333" text-anchor="middle" font-style="italic">p&lt;0.001</text>
<line x1="374.4" y1="6.8999999999999995" x2="518" y2="6.8999999999999995" stroke="#9a9a9a" stroke-width="1.3"/>
<line x1="374.4" y1="62.099999999999994" x2="505.6" y2="62.099999999999994" stroke="#333" stroke-width="1.2"/>
<line x1="505.8" y1="6.3" x2="505.8" y2="62.099999999999994" stroke="#444" stroke-width="1.2"/>
<rect x="506.4" y="6.8999999999999995" width="11.2" height="55.20" fill="#bdbdbd" stroke="#444" stroke-width="0.9"/>
<line x1="374.4" y1="6.3" x2="374.4" y2="62.099999999999994" stroke="#000" stroke-width="1.2"/>
<line x1="372.6" y1="59.80" x2="374.4" y2="59.80" stroke="#333" stroke-width="0.8"/>
<text x="372.2" y="62.0" font-size="6.2" fill="#444" text-anchor="end" >0.00</text>
<line x1="372.6" y1="47.02" x2="374.4" y2="47.02" stroke="#333" stroke-width="0.8"/>
<text x="372.2" y="49.225" font-size="6.2" fill="#444" text-anchor="end" >0.25</text>
<line x1="372.6" y1="34.25" x2="374.4" y2="34.25" stroke="#333" stroke-width="0.8"/>
<text x="372.2" y="36.45" font-size="6.2" fill="#444" text-anchor="end" >0.50</text>
<line x1="372.6" y1="21.47" x2="374.4" y2="21.47" stroke="#333" stroke-width="0.8"/>
<text x="372.2" y="23.674999999999994" font-size="6.2" fill="#444" text-anchor="end" >0.75</text>
<line x1="372.6" y1="8.70" x2="374.4" y2="8.70" stroke="#333" stroke-width="0.8"/>
<text x="372.2" y="10.899999999999995" font-size="6.2" fill="#444" text-anchor="end" >1.00</text>
<text x="511.6" y="35.199999999999996" font-size="6.0" fill="#1a1a1a" text-anchor="middle" transform="rotate(90 511.6 35.199999999999996)" dy="2">U2OS</text>
<rect x="442.6" y="35.0" width="63" height="27.10" fill="#fff" stroke="#333" stroke-width="0.9"/>
<text x="445.2" y="42.9" font-size="5.7" fill="#111" text-anchor="start" textLength="16.4" lengthAdjust="spacingAndGlyphs">siRNA</text>
<text x="465.5" y="42.9" font-size="5.7" fill="#111" text-anchor="start" textLength="38.3" lengthAdjust="spacingAndGlyphs">Avg Time (min)</text>
<text x="445.9" y="52.0" font-size="5.7" fill="#111" text-anchor="start" textLength="9.8" lengthAdjust="spacingAndGlyphs">Ctrl</text>
<text x="465.5" y="52.0" font-size="5.7" fill="#111" text-anchor="start" textLength="36" lengthAdjust="spacingAndGlyphs">24.79 +/- 0.58</text>
<text x="445.9" y="59.9" font-size="5.7" fill="#b0b0b0" text-anchor="start" textLength="17" lengthAdjust="spacingAndGlyphs">GTSE1</text>
<text x="463.2" y="59.9" font-size="5.7" fill="#b0b0b0" text-anchor="start" textLength="38.3" lengthAdjust="spacingAndGlyphs">45.02 +/- 2.43</text>
<line x1="374.4" y1="119.30" x2="505.6" y2="119.30" stroke="#e6e6e6" stroke-width="0.8"/>
<line x1="374.4" y1="106.52" x2="505.6" y2="106.52" stroke="#e6e6e6" stroke-width="0.8"/>
<line x1="374.4" y1="93.75" x2="505.6" y2="93.75" stroke="#e6e6e6" stroke-width="0.8"/>
<line x1="374.4" y1="80.97" x2="505.6" y2="80.97" stroke="#e6e6e6" stroke-width="0.8"/>
<line x1="374.4" y1="68.20" x2="505.6" y2="68.20" stroke="#e6e6e6" stroke-width="0.8"/>
<line x1="415.30" y1="65.8" x2="415.30" y2="121.6" stroke="#e6e6e6" stroke-width="0.8"/>
<line x1="455.60" y1="65.8" x2="455.60" y2="121.6" stroke="#e6e6e6" stroke-width="0.8"/>
<line x1="495.90" y1="65.8" x2="495.90" y2="121.6" stroke="#e6e6e6" stroke-width="0.8"/>
<path d="M375.00,119.30 L380.64,119.30 L381.85,116.74 L382.66,112.66 L383.87,106.52 L385.48,100.39 L387.90,93.75 L391.12,88.64 L394.34,84.04 L397.97,80.97 L405.23,76.38 L413.29,73.31 L429.40,71.27 L455.60,70.24 L505.98,69.22" fill="none" stroke="#e8a541" stroke-width="1.2"/>
<path d="M375.00,119.30 L380.64,119.30 L381.05,118.28 L382.25,113.17 L383.06,104.99 L383.87,93.75 L385.07,82.51 L386.69,75.86 L389.11,71.78 L393.13,70.24 L399.18,69.22 L415.30,68.71 L435.45,68.20 L505.98,68.20" fill="none" stroke="#111" stroke-width="1.6"/>
<text x="408.5" y="89.19999999999999" font-size="5.3" fill="#333" text-anchor="middle" font-style="italic">p&lt;0.001</text>
<line x1="374.4" y1="66.39999999999999" x2="518" y2="66.39999999999999" stroke="#9a9a9a" stroke-width="1.3"/>
<line x1="374.4" y1="121.6" x2="505.6" y2="121.6" stroke="#333" stroke-width="1.2"/>
<line x1="505.8" y1="65.8" x2="505.8" y2="121.6" stroke="#444" stroke-width="1.2"/>
<rect x="506.4" y="66.39999999999999" width="11.2" height="55.20" fill="#e8a541" stroke="#444" stroke-width="0.9"/>
<line x1="374.4" y1="65.8" x2="374.4" y2="121.6" stroke="#000" stroke-width="1.2"/>
<line x1="372.6" y1="119.30" x2="374.4" y2="119.30" stroke="#333" stroke-width="0.8"/>
<text x="372.2" y="121.5" font-size="6.2" fill="#444" text-anchor="end" >0.00</text>
<line x1="372.6" y1="106.52" x2="374.4" y2="106.52" stroke="#333" stroke-width="0.8"/>
<text x="372.2" y="108.725" font-size="6.2" fill="#444" text-anchor="end" >0.25</text>
<line x1="372.6" y1="93.75" x2="374.4" y2="93.75" stroke="#333" stroke-width="0.8"/>
<text x="372.2" y="95.95" font-size="6.2" fill="#444" text-anchor="end" >0.50</text>
<line x1="372.6" y1="80.97" x2="374.4" y2="80.97" stroke="#333" stroke-width="0.8"/>
<text x="372.2" y="83.175" font-size="6.2" fill="#444" text-anchor="end" >0.75</text>
<line x1="372.6" y1="68.20" x2="374.4" y2="68.20" stroke="#333" stroke-width="0.8"/>
<text x="372.2" y="70.39999999999999" font-size="6.2" fill="#444" text-anchor="end" >1.00</text>
<text x="511.6" y="94.69999999999999" font-size="6.0" fill="#1a1a1a" text-anchor="middle" transform="rotate(90 511.6 94.69999999999999)" dy="2">GTSE1<tspan font-size="4" dy="-2.5">5xLID</tspan></text>
<rect x="442.6" y="94.5" width="63" height="27.10" fill="#fff" stroke="#333" stroke-width="0.9"/>
<text x="445.2" y="102.4" font-size="5.7" fill="#111" text-anchor="start" textLength="16.4" lengthAdjust="spacingAndGlyphs">siRNA</text>
<text x="465.5" y="102.4" font-size="5.7" fill="#111" text-anchor="start" textLength="38.3" lengthAdjust="spacingAndGlyphs">Avg Time (min)</text>
<text x="445.9" y="111.5" font-size="5.7" fill="#111" text-anchor="start" textLength="9.8" lengthAdjust="spacingAndGlyphs">Ctrl</text>
<text x="465.5" y="111.5" font-size="5.7" fill="#111" text-anchor="start" textLength="36" lengthAdjust="spacingAndGlyphs">26.86 +/- 0.88</text>
<text x="445.9" y="119.4" font-size="5.7" fill="#e8a541" text-anchor="start" textLength="17" lengthAdjust="spacingAndGlyphs">GTSE1</text>
<text x="463.2" y="119.4" font-size="5.7" fill="#e8a541" text-anchor="start" textLength="38.3" lengthAdjust="spacingAndGlyphs">49.90 +/- 2.30</text>
<line x1="374.4" y1="178.80" x2="505.6" y2="178.80" stroke="#e6e6e6" stroke-width="0.8"/>
<line x1="374.4" y1="166.03" x2="505.6" y2="166.03" stroke="#e6e6e6" stroke-width="0.8"/>
<line x1="374.4" y1="153.25" x2="505.6" y2="153.25" stroke="#e6e6e6" stroke-width="0.8"/>
<line x1="374.4" y1="140.48" x2="505.6" y2="140.48" stroke="#e6e6e6" stroke-width="0.8"/>
<line x1="374.4" y1="127.70" x2="505.6" y2="127.70" stroke="#e6e6e6" stroke-width="0.8"/>
<line x1="415.30" y1="125.3" x2="415.30" y2="181.1" stroke="#e6e6e6" stroke-width="0.8"/>
<line x1="455.60" y1="125.3" x2="455.60" y2="181.1" stroke="#e6e6e6" stroke-width="0.8"/>
<line x1="495.90" y1="125.3" x2="495.90" y2="181.1" stroke="#e6e6e6" stroke-width="0.8"/>
<path d="M375.00,178.80 L380.64,178.80 L381.05,177.78 L382.25,172.67 L383.06,163.47 L383.87,150.69 L384.67,140.48 L385.88,135.88 L387.49,132.81 L390.31,130.77 L394.34,129.74 L399.18,128.47 L407.24,127.96 L423.36,127.70 L505.98,127.70" fill="none" stroke="#111" stroke-width="2.2"/>
<path d="M375.00,178.80 L380.64,178.80 L381.05,177.78 L382.25,171.14 L383.06,160.92 L383.87,149.16 L384.67,140.48 L385.88,135.37 L387.49,132.30 L390.31,130.25 L395.15,128.98 L403.21,128.21 L423.36,127.70 L505.98,127.70" fill="none" stroke="#5ba6e3" stroke-width="1.4"/>
<text x="402" y="148.7" font-size="5.3" fill="#333" text-anchor="middle" font-style="italic">n.s</text>
<line x1="374.4" y1="125.89999999999999" x2="518" y2="125.89999999999999" stroke="#9a9a9a" stroke-width="1.3"/>
<line x1="374.4" y1="181.1" x2="505.6" y2="181.1" stroke="#333" stroke-width="1.2"/>
<line x1="505.8" y1="125.3" x2="505.8" y2="181.1" stroke="#444" stroke-width="1.2"/>
<rect x="506.4" y="125.89999999999999" width="11.2" height="55.20" fill="#5ba6e3" stroke="#444" stroke-width="0.9"/>
<line x1="374.4" y1="125.3" x2="374.4" y2="181.1" stroke="#000" stroke-width="1.2"/>
<line x1="372.6" y1="178.80" x2="374.4" y2="178.80" stroke="#333" stroke-width="0.8"/>
<text x="372.2" y="181.0" font-size="6.2" fill="#444" text-anchor="end" >0.00</text>
<line x1="372.6" y1="166.03" x2="374.4" y2="166.03" stroke="#333" stroke-width="0.8"/>
<text x="372.2" y="168.225" font-size="6.2" fill="#444" text-anchor="end" >0.25</text>
<line x1="372.6" y1="153.25" x2="374.4" y2="153.25" stroke="#333" stroke-width="0.8"/>
<text x="372.2" y="155.45" font-size="6.2" fill="#444" text-anchor="end" >0.50</text>
<line x1="372.6" y1="140.48" x2="374.4" y2="140.48" stroke="#333" stroke-width="0.8"/>
<text x="372.2" y="142.675" font-size="6.2" fill="#444" text-anchor="end" >0.75</text>
<line x1="372.6" y1="127.70" x2="374.4" y2="127.70" stroke="#333" stroke-width="0.8"/>
<text x="372.2" y="129.9" font-size="6.2" fill="#444" text-anchor="end" >1.00</text>
<text x="511.6" y="154.2" font-size="6.0" fill="#1a1a1a" text-anchor="middle" transform="rotate(90 511.6 154.2)" dy="2">GTSE1<tspan font-size="4" dy="-2.5">WT</tspan></text>
<rect x="442.6" y="154.0" width="63" height="27.10" fill="#fff" stroke="#333" stroke-width="0.9"/>
<text x="445.2" y="161.9" font-size="5.7" fill="#111" text-anchor="start" textLength="16.4" lengthAdjust="spacingAndGlyphs">siRNA</text>
<text x="465.5" y="161.9" font-size="5.7" fill="#111" text-anchor="start" textLength="38.3" lengthAdjust="spacingAndGlyphs">Avg Time (min)</text>
<text x="445.9" y="171.0" font-size="5.7" fill="#111" text-anchor="start" textLength="9.8" lengthAdjust="spacingAndGlyphs">Ctrl</text>
<text x="465.5" y="171.0" font-size="5.7" fill="#111" text-anchor="start" textLength="36" lengthAdjust="spacingAndGlyphs">23.95 +/- 0.41</text>
<text x="445.9" y="178.9" font-size="5.7" fill="#5ba6e3" text-anchor="start" textLength="17" lengthAdjust="spacingAndGlyphs">GTSE1</text>
<text x="463.2" y="178.9" font-size="5.7" fill="#5ba6e3" text-anchor="start" textLength="38.3" lengthAdjust="spacingAndGlyphs">26.63 +/- 0.99</text>
<line x1="374.4" y1="238.30" x2="505.6" y2="238.30" stroke="#e6e6e6" stroke-width="0.8"/>
<line x1="374.4" y1="225.53" x2="505.6" y2="225.53" stroke="#e6e6e6" stroke-width="0.8"/>
<line x1="374.4" y1="212.75" x2="505.6" y2="212.75" stroke="#e6e6e6" stroke-width="0.8"/>
<line x1="374.4" y1="199.98" x2="505.6" y2="199.98" stroke="#e6e6e6" stroke-width="0.8"/>
<line x1="374.4" y1="187.20" x2="505.6" y2="187.20" stroke="#e6e6e6" stroke-width="0.8"/>
<line x1="415.30" y1="184.8" x2="415.30" y2="240.60000000000002" stroke="#e6e6e6" stroke-width="0.8"/>
<line x1="455.60" y1="184.8" x2="455.60" y2="240.60000000000002" stroke="#e6e6e6" stroke-width="0.8"/>
<line x1="495.90" y1="184.8" x2="495.90" y2="240.60000000000002" stroke="#e6e6e6" stroke-width="0.8"/>
<path d="M375.00,238.30 L380.64,238.30 L381.05,237.28 L382.25,232.17 L383.06,222.97 L383.87,210.19 L384.67,199.98 L385.88,195.38 L387.49,192.31 L390.31,190.27 L394.34,189.24 L399.18,187.97 L407.24,187.46 L423.36,187.20 L505.98,187.20" fill="none" stroke="#cfcfcf" stroke-width="1.1"/>
<path d="M375.00,238.30 L380.64,238.30 L381.05,237.28 L382.25,232.17 L383.06,223.99 L383.87,212.75 L385.07,201.51 L386.69,194.87 L389.11,190.78 L393.13,189.24 L399.18,188.22 L415.30,187.71 L435.45,187.20 L505.98,187.20" fill="none" stroke="#f2cf95" stroke-width="1.1"/>
<path d="M375.00,238.30 L380.64,238.30 L381.85,235.75 L382.66,230.64 L383.46,225.53 L384.67,217.86 L386.04,211.73 L387.69,206.11 L391.12,200.49 L394.59,197.42 L400.39,194.10 L408.45,191.29 L417.72,190.01 L435.45,189.50 L475.75,188.99 L505.98,188.73" fill="none" stroke="#8e8e8e" stroke-width="1.3"/>
<path d="M375.00,238.30 L380.64,238.30 L381.85,235.75 L382.66,231.66 L383.87,225.53 L385.48,219.39 L387.90,212.75 L391.12,207.64 L394.34,203.04 L397.97,199.98 L405.23,195.38 L413.29,192.31 L429.40,190.27 L455.60,189.24 L505.98,188.22" fill="none" stroke="#e8a541" stroke-width="1.2"/>
<path d="M375.00,238.30 L380.64,238.30 L381.05,237.28 L382.25,232.17 L383.06,222.97 L383.87,210.19 L384.67,199.98 L385.88,195.38 L387.49,192.31 L390.31,190.27 L394.34,189.24 L399.18,187.97 L407.24,187.46 L423.36,187.20 L505.98,187.20" fill="none" stroke="#a8d3f5" stroke-width="1.2"/>
<path d="M375.00,238.30 L380.64,238.30 L381.05,237.28 L382.25,230.64 L383.06,220.42 L383.87,208.66 L384.67,199.98 L385.88,194.87 L387.49,191.80 L390.31,189.75 L395.15,188.48 L403.21,187.71 L423.36,187.20 L505.98,187.20" fill="none" stroke="#5ba6e3" stroke-width="1.2"/>
<line x1="374.4" y1="185.4" x2="518" y2="185.4" stroke="#9a9a9a" stroke-width="1.3"/>
<line x1="374.4" y1="240.60000000000002" x2="505.6" y2="240.60000000000002" stroke="#333" stroke-width="1.2"/>
<line x1="505.8" y1="184.8" x2="505.8" y2="240.60000000000002" stroke="#444" stroke-width="1.2"/>
<rect x="506.4" y="185.4" width="11.2" height="55.20" fill="#ffffff" stroke="#444" stroke-width="0.9"/>
<line x1="374.4" y1="184.8" x2="374.4" y2="240.60000000000002" stroke="#000" stroke-width="1.2"/>
<line x1="372.6" y1="238.30" x2="374.4" y2="238.30" stroke="#333" stroke-width="0.8"/>
<text x="372.2" y="240.5" font-size="6.2" fill="#444" text-anchor="end" >0.00</text>
<line x1="372.6" y1="225.53" x2="374.4" y2="225.53" stroke="#333" stroke-width="0.8"/>
<text x="372.2" y="227.725" font-size="6.2" fill="#444" text-anchor="end" >0.25</text>
<line x1="372.6" y1="212.75" x2="374.4" y2="212.75" stroke="#333" stroke-width="0.8"/>
<text x="372.2" y="214.95" font-size="6.2" fill="#444" text-anchor="end" >0.50</text>
<line x1="372.6" y1="199.98" x2="374.4" y2="199.98" stroke="#333" stroke-width="0.8"/>
<text x="372.2" y="202.175" font-size="6.2" fill="#444" text-anchor="end" >0.75</text>
<line x1="372.6" y1="187.20" x2="374.4" y2="187.20" stroke="#333" stroke-width="0.8"/>
<text x="372.2" y="189.4" font-size="6.2" fill="#444" text-anchor="end" >1.00</text>
<text x="511.6" y="213.70000000000002" font-size="6.0" fill="#1a1a1a" text-anchor="middle" transform="rotate(90 511.6 213.70000000000002)" dy="2">All</text>
<rect x="451.5" y="198.4" width="54.3" height="42.2" fill="#fff" stroke="#333" stroke-width="0.9"/>
<text x="454.1" y="204.6" font-size="4.8" fill="#111" text-anchor="start" textLength="8.6" lengthAdjust="spacingAndGlyphs">Line</text>
<text x="474.6" y="204.6" font-size="4.8" fill="#111" text-anchor="start" textLength="13.3" lengthAdjust="spacingAndGlyphs">siRNA</text>
<text x="454.1" y="210.4" font-size="4.7" fill="#c4c4c4" text-anchor="start" >U2OS</text>
<text x="474.6" y="210.4" font-size="4.7" fill="#c4c4c4" text-anchor="start" >Ctrl</text>
<line x1="491.4" y1="208.7" x2="501.6" y2="208.7" stroke="#c8c8c8" stroke-width="1.1"/>
<text x="454.1" y="215.8" font-size="4.7" fill="#b0b0b0" text-anchor="start" >U2OS</text>
<text x="474.6" y="215.8" font-size="4.7" fill="#b0b0b0" text-anchor="start" textLength="15.3" lengthAdjust="spacingAndGlyphs">GTSE1</text>
<line x1="491.4" y1="214.1" x2="501.6" y2="214.1" stroke="#999" stroke-width="1.1"/>
<text x="454.1" y="221.20000000000002" font-size="4.7" fill="#f0c27e" text-anchor="start" >GTSE1<tspan font-size="2.6" dy="-1.8">5xLID</tspan></text>
<text x="474.6" y="221.20000000000002" font-size="4.7" fill="#f0c27e" text-anchor="start" >Ctrl</text>
<line x1="491.4" y1="219.5" x2="501.6" y2="219.5" stroke="#f2cf95" stroke-width="1.1"/>
<text x="454.1" y="226.60000000000002" font-size="4.7" fill="#e8a541" text-anchor="start" >GTSE1<tspan font-size="2.6" dy="-1.8">5xLID</tspan></text>
<text x="474.6" y="226.60000000000002" font-size="4.7" fill="#e8a541" text-anchor="start" textLength="15.3" lengthAdjust="spacingAndGlyphs">GTSE1</text>
<line x1="491.4" y1="224.9" x2="501.6" y2="224.9" stroke="#e8a541" stroke-width="1.1"/>
<text x="454.1" y="232.0" font-size="4.7" fill="#9fcdf2" text-anchor="start" >GTSE1<tspan font-size="2.6" dy="-1.8">WT</tspan></text>
<text x="474.6" y="232.0" font-size="4.7" fill="#9fcdf2" text-anchor="start" >Ctrl</text>
<line x1="491.4" y1="230.3" x2="501.6" y2="230.3" stroke="#a8d3f5" stroke-width="1.1"/>
<text x="454.1" y="237.4" font-size="4.7" fill="#5ba6e3" text-anchor="start" >GTSE1<tspan font-size="2.6" dy="-1.8">WT</tspan></text>
<text x="474.6" y="237.4" font-size="4.7" fill="#5ba6e3" text-anchor="start" textLength="15.3" lengthAdjust="spacingAndGlyphs">GTSE1</text>
<line x1="491.4" y1="235.7" x2="501.6" y2="235.7" stroke="#5ba6e3" stroke-width="1.1"/>
<line x1="375.00" y1="240.6" x2="375.00" y2="242.4" stroke="#333" stroke-width="0.8"/>
<text x="374.4" y="248.8" font-size="6.4" fill="#444" text-anchor="middle" >0</text>
<line x1="415.30" y1="240.6" x2="415.30" y2="242.4" stroke="#333" stroke-width="0.8"/>
<text x="414.7" y="248.8" font-size="6.4" fill="#444" text-anchor="middle" >100</text>
<line x1="455.60" y1="240.6" x2="455.60" y2="242.4" stroke="#333" stroke-width="0.8"/>
<text x="455.0" y="248.8" font-size="6.4" fill="#444" text-anchor="middle" >200</text>
<line x1="495.90" y1="240.6" x2="495.90" y2="242.4" stroke="#333" stroke-width="0.8"/>
<text x="495.29999999999995" y="248.8" font-size="6.4" fill="#444" text-anchor="middle" >300</text>
<text x="369.5" y="256.4" font-size="7.5" fill="#111" text-anchor="start" textLength="149" lengthAdjust="spacingAndGlyphs">Time after Nuclear Envelope Breakdown (min)</text>
<text x="355.8" y="123.5" font-size="7.4" fill="#111" text-anchor="middle" transform="rotate(-90 355.8 123.5)">Cumulative entry in anaphase (Fraction of cells in anaphase)</text>
<text x="353.6" y="274.0" font-size="18.2" fill="#000" text-anchor="start" >G</text>
<rect x="395.8" y="268.6" width="32.5" height="12.6" fill="#bdbdbd"/>
<rect x="431.8" y="268.6" width="32.2" height="12.6" fill="#e8a541"/>
<rect x="467.6" y="268.6" width="32.2" height="12.6" fill="#5ba6e3"/>
<text x="404.1" y="277.6" font-size="6.3" fill="#222" text-anchor="start" textLength="16.2" lengthAdjust="spacingAndGlyphs">U2OS</text>
<text x="433.4" y="277.6" font-size="6.3" fill="#222" text-anchor="start" ><tspan textLength="19.2" lengthAdjust="spacingAndGlyphs">GTSE1</tspan><tspan font-size="4.2" dy="-2.8">5xLID</tspan></text>
<text x="470.8" y="277.6" font-size="6.3" fill="#222" text-anchor="start" ><tspan textLength="19.2" lengthAdjust="spacingAndGlyphs">GTSE1</tspan><tspan font-size="4.2" dy="-2.8">WT</tspan></text>
<line x1="395.8" y1="281.5" x2="395.8" y2="373.6" stroke="#444" stroke-width="0.9"/>
<line x1="393.8" y1="369.0" x2="395.8" y2="369.0" stroke="#444" stroke-width="0.8"/>
<text x="392.4" y="371.6" font-size="6.5" fill="#444" text-anchor="end" >0</text>
<line x1="393.8" y1="352.9" x2="395.8" y2="352.9" stroke="#444" stroke-width="0.8"/>
<text x="392.4" y="355.46000000000004" font-size="6.5" fill="#444" text-anchor="end" >10</text>
<line x1="393.8" y1="336.7" x2="395.8" y2="336.7" stroke="#444" stroke-width="0.8"/>
<text x="392.4" y="339.32000000000005" font-size="6.5" fill="#444" text-anchor="end" >20</text>
<line x1="393.8" y1="320.6" x2="395.8" y2="320.6" stroke="#444" stroke-width="0.8"/>
<text x="392.4" y="323.18" font-size="6.5" fill="#444" text-anchor="end" >30</text>
<line x1="393.8" y1="304.4" x2="395.8" y2="304.4" stroke="#444" stroke-width="0.8"/>
<text x="392.4" y="307.04" font-size="6.5" fill="#444" text-anchor="end" >40</text>
<line x1="393.8" y1="288.3" x2="395.8" y2="288.3" stroke="#444" stroke-width="0.8"/>
<text x="392.4" y="290.90000000000003" font-size="6.5" fill="#444" text-anchor="end" >50</text>
<rect x="398.5" y="348.8" width="12.4" height="20.2" fill="#d2d2d2"/>
<path d="M403.4,346.6 H406.0 M404.7,346.6 V351.1 M403.4,351.1 H406.0" stroke="#111" stroke-width="0.8" fill="none"/>
<rect x="413.3" y="302.8" width="12.2" height="66.2" fill="#a0a0a0"/>
<path d="M418.1,295.4 H420.7 M419.4,295.4 V310.3 M418.1,310.3 H420.7" stroke="#111" stroke-width="0.8" fill="none"/>
<rect x="434.0" y="338.3" width="12.7" height="30.7" fill="#f3d69f"/>
<path d="M439.1,336.2 H441.7 M440.4,336.2 V340.4 M439.1,340.4 H441.7" stroke="#111" stroke-width="0.8" fill="none"/>
<rect x="448.8" y="289.1" width="13.0" height="79.9" fill="#e8a541"/>
<path d="M454.0,284.7 H456.6 M455.3,284.7 V293.5 M454.0,293.5 H456.6" stroke="#111" stroke-width="0.8" fill="none"/>
<rect x="470.3" y="349.6" width="12.7" height="19.4" fill="#a3d4f6"/>
<path d="M475.4,347.7 H478.0 M476.7,347.7 V351.6 M475.4,351.6 H478.0" stroke="#111" stroke-width="0.8" fill="none"/>
<rect x="485.0" y="350.9" width="13.0" height="18.1" fill="#5aa6e8"/>
<path d="M490.2,347.9 H492.8 M491.5,347.9 V354.0 M490.2,354.0 H492.8" stroke="#111" stroke-width="0.8" fill="none"/>
<path d="M403.5,293.1 V291.8 H420.5 V293.1" stroke="#c8c8c8" stroke-width="0.7" fill="none"/>
<text x="407.3" y="298.3" font-size="5.2" fill="#bdbdbd" text-anchor="middle" font-style="italic">p&lt;0.05</text>
<path d="M438.5,284.3 V283 H455.2 V284.3" stroke="#c8c8c8" stroke-width="0.7" fill="none"/>
<text x="444.4" y="289.3" font-size="5.2" fill="#bdbdbd" text-anchor="middle" font-style="italic">p&lt;0.05</text>
<path d="M475.2,344.5 V343.2 H491.7 V344.5" stroke="#c8c8c8" stroke-width="0.7" fill="none"/>
<text x="483.5" y="348.6" font-size="5.2" fill="#bdbdbd" text-anchor="middle" font-style="italic">n.s</text>
<line x1="395.8" y1="373.6" x2="429" y2="373.6" stroke="#444" stroke-width="0.9"/>
<line x1="431.8" y1="373.6" x2="463.8" y2="373.6" stroke="#444" stroke-width="0.9"/>
<line x1="468" y1="373.6" x2="500" y2="373.6" stroke="#444" stroke-width="0.9"/>
<line x1="404.7" y1="373.6" x2="404.7" y2="375.4" stroke="#444" stroke-width="0.8"/>
<text x="404.5" y="381.8" font-size="6.6" fill="#222" text-anchor="middle" textLength="10.8" lengthAdjust="spacingAndGlyphs">Ctrl</text>
<line x1="419.4" y1="373.6" x2="419.4" y2="375.4" stroke="#444" stroke-width="0.8"/>
<text x="420.5" y="381.8" font-size="6.6" fill="#222" text-anchor="middle" textLength="19" lengthAdjust="spacingAndGlyphs">GTSE1</text>
<line x1="440.4" y1="373.6" x2="440.4" y2="375.4" stroke="#444" stroke-width="0.8"/>
<text x="440.7" y="381.8" font-size="6.6" fill="#222" text-anchor="middle" textLength="10.8" lengthAdjust="spacingAndGlyphs">Ctrl</text>
<line x1="455.3" y1="373.6" x2="455.3" y2="375.4" stroke="#444" stroke-width="0.8"/>
<text x="456.4" y="381.8" font-size="6.6" fill="#222" text-anchor="middle" textLength="19" lengthAdjust="spacingAndGlyphs">GTSE1</text>
<line x1="476.7" y1="373.6" x2="476.7" y2="375.4" stroke="#444" stroke-width="0.8"/>
<text x="477.1" y="381.8" font-size="6.6" fill="#222" text-anchor="middle" textLength="10.8" lengthAdjust="spacingAndGlyphs">Ctrl</text>
<line x1="491.5" y1="373.6" x2="491.5" y2="375.4" stroke="#444" stroke-width="0.8"/>
<text x="493.1" y="381.8" font-size="6.6" fill="#222" text-anchor="middle" textLength="19" lengthAdjust="spacingAndGlyphs">GTSE1</text>
<text x="449.8" y="389.6" font-size="7.6" fill="#111" text-anchor="middle" >siRNA</text>
<text x="381.0" y="328.8" font-size="6.4" fill="#111" text-anchor="middle" transform="rotate(-90 381.0 328.8)" textLength="117.6" lengthAdjust="spacingAndGlyphs">% of cells with misaligned chromosome(s)</text>
</svg></body></html>
